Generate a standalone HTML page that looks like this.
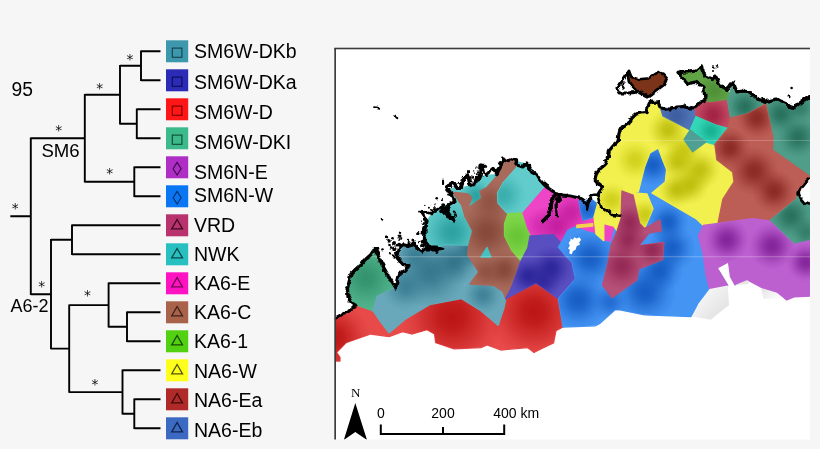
<!DOCTYPE html>
<html><head><meta charset="utf-8"><title>Phylogeny and map</title>
<style>
html,body{margin:0;padding:0;background:#f6f6f6;}
body{width:820px;height:449px;overflow:hidden;}
svg{display:block;will-change:transform;}
text{font-family:"Liberation Sans",sans-serif;fill:#000;}
.lab{font-size:19.5px;}

.st{font-family:"DejaVu Sans",sans-serif;font-size:13.8px;fill:#111;}
.sb{font-size:14px;}
.nn{font-family:"Liberation Serif",serif;font-size:13px;}
</style></head><body>
<svg width="820" height="449" viewBox="0 0 820 449">
<defs>
<clipPath id="c_red"><polygon points="335.5,318.0 343.0,314.0 349.0,311.0 356.0,305.0 373.0,310.8 380.6,321.9 389.0,332.9 405.0,319.4 429.6,304.7 461.5,298.6 481.0,310.8 498.2,325.5 504.3,307.0 505.7,298.8 536.0,283.0 558.4,298.8 563.0,327.0 556.0,330.7 553.5,343.0 538.8,350.0 534.0,352.5 527.6,347.6 500.7,350.0 487.0,345.0 481.0,347.6 454.0,348.8 435.7,342.7 434.5,334.0 427.0,329.7 412.4,334.0 402.6,331.7 389.0,336.6 370.8,334.0 346.0,342.7 336.5,352.5 340.0,357.4 340.0,361.0 335.5,361.0"/></clipPath>
<radialGradient id="g0" gradientUnits="userSpaceOnUse" cx="452" cy="317" r="52.2"><stop offset="0" stop-color="#b00808" stop-opacity="0.8"/><stop offset="0.25" stop-color="#b00808" stop-opacity="0.68"/><stop offset="0.5" stop-color="#b00808" stop-opacity="0.42"/><stop offset="0.75" stop-color="#b00808" stop-opacity="0.16"/><stop offset="1" stop-color="#b00808" stop-opacity="0"/></radialGradient>
<radialGradient id="g1" gradientUnits="userSpaceOnUse" cx="334" cy="338" r="36.6"><stop offset="0" stop-color="#b00808" stop-opacity="0.8"/><stop offset="0.25" stop-color="#b00808" stop-opacity="0.68"/><stop offset="0.5" stop-color="#b00808" stop-opacity="0.42"/><stop offset="0.75" stop-color="#b00808" stop-opacity="0.16"/><stop offset="1" stop-color="#b00808" stop-opacity="0"/></radialGradient>
<radialGradient id="g2" gradientUnits="userSpaceOnUse" cx="534" cy="312" r="47.0"><stop offset="0" stop-color="#b00808" stop-opacity="0.8"/><stop offset="0.25" stop-color="#b00808" stop-opacity="0.68"/><stop offset="0.5" stop-color="#b00808" stop-opacity="0.42"/><stop offset="0.75" stop-color="#b00808" stop-opacity="0.16"/><stop offset="1" stop-color="#b00808" stop-opacity="0"/></radialGradient>
<clipPath id="c_greenL"><polygon points="373.7,249.0 369.3,255.7 361.2,263.0 353.0,271.0 348.7,278.5 348.0,288.8 351.0,302.0 356.0,305.0 373.0,310.8 376.9,296.4 387.0,291.5 395.8,288.0 389.9,278.5 384.0,268.0 379.6,259.4 376.6,249.9"/></clipPath>
<radialGradient id="g3" gradientUnits="userSpaceOnUse" cx="366" cy="278" r="31.4"><stop offset="0" stop-color="#2a8a66" stop-opacity="0.8"/><stop offset="0.25" stop-color="#2a8a66" stop-opacity="0.68"/><stop offset="0.5" stop-color="#2a8a66" stop-opacity="0.42"/><stop offset="0.75" stop-color="#2a8a66" stop-opacity="0.16"/><stop offset="1" stop-color="#2a8a66" stop-opacity="0"/></radialGradient>
<clipPath id="c_steel"><polygon points="395.8,288.0 398.7,274.0 404.6,271.0 409.0,264.5 403.0,264.5 397.0,258.0 398.7,252.0 403.0,244.7 410.5,244.7 416.0,246.0 422.0,252.0 425.0,249.0 436.0,248.5 444.0,244.4 468.8,245.0 467.6,254.7 478.6,271.9 470.0,284.0 493.3,285.3 503.0,291.5 505.6,299.8 504.3,307.0 498.2,325.5 481.0,310.8 461.5,298.6 429.6,304.7 405.0,319.4 389.0,332.9 380.6,321.9 373.0,310.8 376.9,296.4 387.0,291.5"/></clipPath>
<radialGradient id="g4" gradientUnits="userSpaceOnUse" cx="430" cy="272" r="36.6"><stop offset="0" stop-color="#2a6a82" stop-opacity="0.8"/><stop offset="0.25" stop-color="#2a6a82" stop-opacity="0.68"/><stop offset="0.5" stop-color="#2a6a82" stop-opacity="0.42"/><stop offset="0.75" stop-color="#2a6a82" stop-opacity="0.16"/><stop offset="1" stop-color="#2a6a82" stop-opacity="0"/></radialGradient>
<radialGradient id="g5" gradientUnits="userSpaceOnUse" cx="455" cy="262" r="23.6"><stop offset="0" stop-color="#2a6a82" stop-opacity="0.8"/><stop offset="0.25" stop-color="#2a6a82" stop-opacity="0.68"/><stop offset="0.5" stop-color="#2a6a82" stop-opacity="0.42"/><stop offset="0.75" stop-color="#2a6a82" stop-opacity="0.16"/><stop offset="1" stop-color="#2a6a82" stop-opacity="0"/></radialGradient>
<radialGradient id="g6" gradientUnits="userSpaceOnUse" cx="483" cy="295" r="19.7"><stop offset="0" stop-color="#34788e" stop-opacity="0.8"/><stop offset="0.25" stop-color="#34788e" stop-opacity="0.68"/><stop offset="0.5" stop-color="#34788e" stop-opacity="0.42"/><stop offset="0.75" stop-color="#34788e" stop-opacity="0.16"/><stop offset="1" stop-color="#34788e" stop-opacity="0"/></radialGradient>
<radialGradient id="g7" gradientUnits="userSpaceOnUse" cx="405" cy="287" r="23.6"><stop offset="0" stop-color="#34788e" stop-opacity="0.8"/><stop offset="0.25" stop-color="#34788e" stop-opacity="0.68"/><stop offset="0.5" stop-color="#34788e" stop-opacity="0.42"/><stop offset="0.75" stop-color="#34788e" stop-opacity="0.16"/><stop offset="1" stop-color="#34788e" stop-opacity="0"/></radialGradient>
<radialGradient id="g8" gradientUnits="userSpaceOnUse" cx="470" cy="250" r="18.4"><stop offset="0" stop-color="#2a6a82" stop-opacity="0.8"/><stop offset="0.25" stop-color="#2a6a82" stop-opacity="0.68"/><stop offset="0.5" stop-color="#2a6a82" stop-opacity="0.42"/><stop offset="0.75" stop-color="#2a6a82" stop-opacity="0.16"/><stop offset="1" stop-color="#2a6a82" stop-opacity="0"/></radialGradient>
<radialGradient id="g9" gradientUnits="userSpaceOnUse" cx="415" cy="255" r="19.7"><stop offset="0" stop-color="#34788e" stop-opacity="0.8"/><stop offset="0.25" stop-color="#34788e" stop-opacity="0.68"/><stop offset="0.5" stop-color="#34788e" stop-opacity="0.42"/><stop offset="0.75" stop-color="#34788e" stop-opacity="0.16"/><stop offset="1" stop-color="#34788e" stop-opacity="0"/></radialGradient>
<clipPath id="c_turqL"><polygon points="436.0,248.5 425.0,249.0 424.0,243.0 425.0,235.8 427.0,221.0 432.0,213.7 441.8,206.4 449.0,205.0 455.0,201.7 451.7,193.3 453.0,193.0 461.7,205.0 465.0,216.5 472.5,231.0 468.8,245.0 444.0,244.4"/></clipPath>
<radialGradient id="g10" gradientUnits="userSpaceOnUse" cx="452" cy="232" r="28.8"><stop offset="0" stop-color="#1f9696" stop-opacity="0.8"/><stop offset="0.25" stop-color="#1f9696" stop-opacity="0.68"/><stop offset="0.5" stop-color="#1f9696" stop-opacity="0.42"/><stop offset="0.75" stop-color="#1f9696" stop-opacity="0.16"/><stop offset="1" stop-color="#1f9696" stop-opacity="0"/></radialGradient>
<clipPath id="c_turqU"><polygon points="455.8,192.5 451.7,193.3 449.0,189.5 455.0,187.5 461.7,188.0 468.0,186.0 474.0,185.0 478.5,181.0 481.7,176.7 487.0,175.5 493.0,175.0 498.0,175.0 486.7,187.5 480.0,191.0 481.7,198.0 468.0,208.0 471.7,197.5 468.0,194.0"/></clipPath>
<radialGradient id="g11" gradientUnits="userSpaceOnUse" cx="476" cy="196" r="17.1"><stop offset="0" stop-color="#1f9696" stop-opacity="0.8"/><stop offset="0.25" stop-color="#1f9696" stop-opacity="0.68"/><stop offset="0.5" stop-color="#1f9696" stop-opacity="0.42"/><stop offset="0.75" stop-color="#1f9696" stop-opacity="0.16"/><stop offset="1" stop-color="#1f9696" stop-opacity="0"/></radialGradient>
<clipPath id="c_brownA"><polygon points="453.0,193.0 455.8,192.5 468.0,194.0 471.7,197.5 468.0,208.0 465.0,216.5 461.7,205.0"/></clipPath>
<clipPath id="c_brown"><polygon points="503.0,163.0 510.0,158.5 516.7,162.0 516.7,167.5 503.0,183.0 497.5,193.0 498.0,203.0 507.0,213.0 504.5,223.5 504.5,235.8 511.9,250.5 521.0,261.0 520.3,262.5 511.9,286.6 505.7,298.8 503.0,291.5 493.3,285.3 470.0,284.0 478.6,271.9 467.6,254.7 468.8,245.0 472.5,231.0 465.0,216.5 468.0,208.0 481.7,198.0 480.0,191.0 486.7,187.5 498.0,175.0"/></clipPath>
<radialGradient id="g12" gradientUnits="userSpaceOnUse" cx="487" cy="232" r="28.8"><stop offset="0" stop-color="#7c4030" stop-opacity="0.8"/><stop offset="0.25" stop-color="#7c4030" stop-opacity="0.68"/><stop offset="0.5" stop-color="#7c4030" stop-opacity="0.42"/><stop offset="0.75" stop-color="#7c4030" stop-opacity="0.16"/><stop offset="1" stop-color="#7c4030" stop-opacity="0"/></radialGradient>
<radialGradient id="g13" gradientUnits="userSpaceOnUse" cx="490" cy="202" r="21.0"><stop offset="0" stop-color="#8a4c3c" stop-opacity="0.8"/><stop offset="0.25" stop-color="#8a4c3c" stop-opacity="0.68"/><stop offset="0.5" stop-color="#8a4c3c" stop-opacity="0.42"/><stop offset="0.75" stop-color="#8a4c3c" stop-opacity="0.16"/><stop offset="1" stop-color="#8a4c3c" stop-opacity="0"/></radialGradient>
<radialGradient id="g14" gradientUnits="userSpaceOnUse" cx="504" cy="270" r="19.7"><stop offset="0" stop-color="#7c4030" stop-opacity="0.8"/><stop offset="0.25" stop-color="#7c4030" stop-opacity="0.68"/><stop offset="0.5" stop-color="#7c4030" stop-opacity="0.42"/><stop offset="0.75" stop-color="#7c4030" stop-opacity="0.16"/><stop offset="1" stop-color="#7c4030" stop-opacity="0"/></radialGradient>
<radialGradient id="g15" gradientUnits="userSpaceOnUse" cx="486" cy="272" r="17.1"><stop offset="0" stop-color="#8a4c3c" stop-opacity="0.8"/><stop offset="0.25" stop-color="#8a4c3c" stop-opacity="0.68"/><stop offset="0.5" stop-color="#8a4c3c" stop-opacity="0.42"/><stop offset="0.75" stop-color="#8a4c3c" stop-opacity="0.16"/><stop offset="1" stop-color="#8a4c3c" stop-opacity="0"/></radialGradient>
<clipPath id="c_turqTri"><polygon points="487.0,247.4 491.0,257.0 481.0,257.0"/></clipPath>
<clipPath id="c_turqR"><polygon points="516.7,167.5 516.7,162.0 526.7,164.0 536.7,175.0 545.0,187.5 523.0,213.0 510.0,214.0 507.0,213.0 498.0,203.0 497.5,193.0 503.0,183.0"/></clipPath>
<radialGradient id="g16" gradientUnits="userSpaceOnUse" cx="503" cy="195" r="23.6"><stop offset="0" stop-color="#2fa5a5" stop-opacity="0.8"/><stop offset="0.25" stop-color="#2fa5a5" stop-opacity="0.68"/><stop offset="0.5" stop-color="#2fa5a5" stop-opacity="0.42"/><stop offset="0.75" stop-color="#2fa5a5" stop-opacity="0.16"/><stop offset="1" stop-color="#2fa5a5" stop-opacity="0"/></radialGradient>
<clipPath id="c_green"><polygon points="508.0,213.7 521.7,213.0 527.8,228.4 530.0,235.8 527.8,248.0 521.0,261.0 511.9,250.5 504.5,235.8 504.5,223.5"/></clipPath>
<radialGradient id="g17" gradientUnits="userSpaceOnUse" cx="517" cy="236" r="21.0"><stop offset="0" stop-color="#62c030" stop-opacity="0.8"/><stop offset="0.25" stop-color="#62c030" stop-opacity="0.68"/><stop offset="0.5" stop-color="#62c030" stop-opacity="0.42"/><stop offset="0.75" stop-color="#62c030" stop-opacity="0.16"/><stop offset="1" stop-color="#62c030" stop-opacity="0"/></radialGradient>
<clipPath id="c_magenta"><polygon points="545.0,187.5 553.5,191.7 558.4,194.0 563.0,195.0 578.0,197.8 579.0,200.0 580.5,211.0 583.0,220.0 594.0,217.0 596.0,234.0 588.0,232.0 575.0,227.0 568.0,230.0 560.9,243.0 553.5,234.6 531.5,235.8 527.8,228.4 523.0,213.0"/></clipPath>
<radialGradient id="g18" gradientUnits="userSpaceOnUse" cx="556" cy="226" r="23.6"><stop offset="0" stop-color="#b81494" stop-opacity="0.8"/><stop offset="0.25" stop-color="#b81494" stop-opacity="0.68"/><stop offset="0.5" stop-color="#b81494" stop-opacity="0.42"/><stop offset="0.75" stop-color="#b81494" stop-opacity="0.16"/><stop offset="1" stop-color="#b81494" stop-opacity="0"/></radialGradient>
<radialGradient id="g19" gradientUnits="userSpaceOnUse" cx="572" cy="212" r="21.0"><stop offset="0" stop-color="#c01c9c" stop-opacity="0.8"/><stop offset="0.25" stop-color="#c01c9c" stop-opacity="0.68"/><stop offset="0.5" stop-color="#c01c9c" stop-opacity="0.42"/><stop offset="0.75" stop-color="#c01c9c" stop-opacity="0.16"/><stop offset="1" stop-color="#c01c9c" stop-opacity="0"/></radialGradient>
<radialGradient id="g20" gradientUnits="userSpaceOnUse" cx="540" cy="225" r="18.4"><stop offset="0" stop-color="#d028ac" stop-opacity="0.8"/><stop offset="0.25" stop-color="#d028ac" stop-opacity="0.68"/><stop offset="0.5" stop-color="#d028ac" stop-opacity="0.42"/><stop offset="0.75" stop-color="#d028ac" stop-opacity="0.16"/><stop offset="1" stop-color="#d028ac" stop-opacity="0"/></radialGradient>
<clipPath id="c_magenta2"><polygon points="603.8,223.5 613.6,226.0 617.0,230.9 611.0,245.6 603.8,240.7"/></clipPath>
<clipPath id="c_indigo"><polygon points="531.5,235.8 553.5,234.6 560.9,243.0 558.4,247.0 564.6,254.7 572.0,262.0 575.6,279.0 558.4,298.8 536.0,283.0 505.7,298.8 511.9,286.6 520.3,262.5 521.0,261.0 527.8,248.0 530.0,235.8"/></clipPath>
<radialGradient id="g21" gradientUnits="userSpaceOnUse" cx="528" cy="276" r="19.7"><stop offset="0" stop-color="#201a90" stop-opacity="0.8"/><stop offset="0.25" stop-color="#201a90" stop-opacity="0.68"/><stop offset="0.5" stop-color="#201a90" stop-opacity="0.42"/><stop offset="0.75" stop-color="#201a90" stop-opacity="0.16"/><stop offset="1" stop-color="#201a90" stop-opacity="0"/></radialGradient>
<radialGradient id="g22" gradientUnits="userSpaceOnUse" cx="551" cy="268" r="22.3"><stop offset="0" stop-color="#201a90" stop-opacity="0.8"/><stop offset="0.25" stop-color="#201a90" stop-opacity="0.68"/><stop offset="0.5" stop-color="#201a90" stop-opacity="0.42"/><stop offset="0.75" stop-color="#201a90" stop-opacity="0.16"/><stop offset="1" stop-color="#201a90" stop-opacity="0"/></radialGradient>
<radialGradient id="g23" gradientUnits="userSpaceOnUse" cx="543" cy="282" r="18.4"><stop offset="0" stop-color="#2a2298" stop-opacity="0.8"/><stop offset="0.25" stop-color="#2a2298" stop-opacity="0.68"/><stop offset="0.5" stop-color="#2a2298" stop-opacity="0.42"/><stop offset="0.75" stop-color="#2a2298" stop-opacity="0.16"/><stop offset="1" stop-color="#2a2298" stop-opacity="0"/></radialGradient>
<clipPath id="c_blue"><polygon points="560.9,243.0 568.0,230.0 575.0,227.0 588.0,232.0 596.0,234.0 602.5,240.7 611.0,243.0 622.0,200.0 638.4,191.7 644.5,167.0 649.9,153.0 658.4,148.0 662.0,158.0 666.6,169.6 665.3,181.9 651.9,192.9 696.0,218.6 703.3,225.5 698.4,235.8 703.3,254.7 705.8,274.0 709.5,289.0 698.4,303.7 691.0,316.5 644.5,314.8 620.0,309.9 614.8,309.9 600.0,323.3 595.0,325.8 563.0,327.0 558.4,298.8 575.6,279.0 572.0,262.0 564.6,254.7 558.4,247.0"/></clipPath>
<radialGradient id="g24" gradientUnits="userSpaceOnUse" cx="590" cy="258" r="28.8"><stop offset="0" stop-color="#0a4fb8" stop-opacity="0.8"/><stop offset="0.25" stop-color="#0a4fb8" stop-opacity="0.68"/><stop offset="0.5" stop-color="#0a4fb8" stop-opacity="0.42"/><stop offset="0.75" stop-color="#0a4fb8" stop-opacity="0.16"/><stop offset="1" stop-color="#0a4fb8" stop-opacity="0"/></radialGradient>
<radialGradient id="g25" gradientUnits="userSpaceOnUse" cx="578" cy="300" r="30.1"><stop offset="0" stop-color="#0a4fb8" stop-opacity="0.8"/><stop offset="0.25" stop-color="#0a4fb8" stop-opacity="0.68"/><stop offset="0.5" stop-color="#0a4fb8" stop-opacity="0.42"/><stop offset="0.75" stop-color="#0a4fb8" stop-opacity="0.16"/><stop offset="1" stop-color="#0a4fb8" stop-opacity="0"/></radialGradient>
<radialGradient id="g26" gradientUnits="userSpaceOnUse" cx="645" cy="292" r="31.4"><stop offset="0" stop-color="#0a4fb8" stop-opacity="0.8"/><stop offset="0.25" stop-color="#0a4fb8" stop-opacity="0.68"/><stop offset="0.5" stop-color="#0a4fb8" stop-opacity="0.42"/><stop offset="0.75" stop-color="#0a4fb8" stop-opacity="0.16"/><stop offset="1" stop-color="#0a4fb8" stop-opacity="0"/></radialGradient>
<radialGradient id="g27" gradientUnits="userSpaceOnUse" cx="660" cy="270" r="23.6"><stop offset="0" stop-color="#0a4fb8" stop-opacity="0.8"/><stop offset="0.25" stop-color="#0a4fb8" stop-opacity="0.68"/><stop offset="0.5" stop-color="#0a4fb8" stop-opacity="0.42"/><stop offset="0.75" stop-color="#0a4fb8" stop-opacity="0.16"/><stop offset="1" stop-color="#0a4fb8" stop-opacity="0"/></radialGradient>
<radialGradient id="g28" gradientUnits="userSpaceOnUse" cx="672" cy="248" r="23.6"><stop offset="0" stop-color="#0a4fb8" stop-opacity="0.8"/><stop offset="0.25" stop-color="#0a4fb8" stop-opacity="0.68"/><stop offset="0.5" stop-color="#0a4fb8" stop-opacity="0.42"/><stop offset="0.75" stop-color="#0a4fb8" stop-opacity="0.16"/><stop offset="1" stop-color="#0a4fb8" stop-opacity="0"/></radialGradient>
<radialGradient id="g29" gradientUnits="userSpaceOnUse" cx="668" cy="222" r="21.0"><stop offset="0" stop-color="#0a4fb8" stop-opacity="0.8"/><stop offset="0.25" stop-color="#0a4fb8" stop-opacity="0.68"/><stop offset="0.5" stop-color="#0a4fb8" stop-opacity="0.42"/><stop offset="0.75" stop-color="#0a4fb8" stop-opacity="0.16"/><stop offset="1" stop-color="#0a4fb8" stop-opacity="0"/></radialGradient>
<radialGradient id="g30" gradientUnits="userSpaceOnUse" cx="653" cy="165" r="21.0"><stop offset="0" stop-color="#0a4fb8" stop-opacity="0.8"/><stop offset="0.25" stop-color="#0a4fb8" stop-opacity="0.68"/><stop offset="0.5" stop-color="#0a4fb8" stop-opacity="0.42"/><stop offset="0.75" stop-color="#0a4fb8" stop-opacity="0.16"/><stop offset="1" stop-color="#0a4fb8" stop-opacity="0"/></radialGradient>
<radialGradient id="g31" gradientUnits="userSpaceOnUse" cx="610" cy="302" r="18.4"><stop offset="0" stop-color="#1a60c8" stop-opacity="0.8"/><stop offset="0.25" stop-color="#1a60c8" stop-opacity="0.68"/><stop offset="0.5" stop-color="#1a60c8" stop-opacity="0.42"/><stop offset="0.75" stop-color="#1a60c8" stop-opacity="0.16"/><stop offset="1" stop-color="#1a60c8" stop-opacity="0"/></radialGradient>
<clipPath id="c_blueS"><polygon points="579.0,200.0 585.4,201.5 590.0,198.0 597.6,204.0 594.0,217.0 583.0,220.0 580.5,211.0"/></clipPath>
<radialGradient id="g32" gradientUnits="userSpaceOnUse" cx="588" cy="210" r="15.8"><stop offset="0" stop-color="#1458c0" stop-opacity="0.8"/><stop offset="0.25" stop-color="#1458c0" stop-opacity="0.68"/><stop offset="0.5" stop-color="#1458c0" stop-opacity="0.42"/><stop offset="0.75" stop-color="#1458c0" stop-opacity="0.16"/><stop offset="1" stop-color="#1458c0" stop-opacity="0"/></radialGradient>
<clipPath id="c_yellow"><polygon points="597.6,195.0 602.5,186.8 595.0,179.4 597.6,172.0 605.0,164.7 608.7,155.0 609.4,150.6 618.0,140.8 620.4,128.5 629.0,123.6 636.4,113.8 646.0,112.6 649.9,101.6 658.4,101.6 659.7,107.7 663.0,116.0 678.0,123.6 689.0,129.8 684.0,139.6 692.7,151.8 706.0,142.0 714.8,144.5 715.6,150.0 716.8,159.8 732.7,172.0 734.0,181.9 722.9,199.0 718.0,223.5 703.3,225.5 696.0,218.6 651.9,192.9 665.3,181.9 666.6,169.6 662.0,158.0 658.4,148.0 649.9,153.0 644.5,167.0 638.4,191.7 633.5,192.9 633.0,195.0 622.0,191.0 621.0,218.6 617.0,230.9 613.6,226.0 603.8,223.5 603.8,240.7 596.0,234.0 594.0,217.0 597.6,204.0"/></clipPath>
<radialGradient id="g33" gradientUnits="userSpaceOnUse" cx="668" cy="130" r="21.0"><stop offset="0" stop-color="#b4b400" stop-opacity="0.8"/><stop offset="0.25" stop-color="#b4b400" stop-opacity="0.68"/><stop offset="0.5" stop-color="#b4b400" stop-opacity="0.42"/><stop offset="0.75" stop-color="#b4b400" stop-opacity="0.16"/><stop offset="1" stop-color="#b4b400" stop-opacity="0"/></radialGradient>
<radialGradient id="g34" gradientUnits="userSpaceOnUse" cx="635" cy="160" r="21.0"><stop offset="0" stop-color="#c8c810" stop-opacity="0.8"/><stop offset="0.25" stop-color="#c8c810" stop-opacity="0.68"/><stop offset="0.5" stop-color="#c8c810" stop-opacity="0.42"/><stop offset="0.75" stop-color="#c8c810" stop-opacity="0.16"/><stop offset="1" stop-color="#c8c810" stop-opacity="0"/></radialGradient>
<radialGradient id="g35" gradientUnits="userSpaceOnUse" cx="678" cy="162" r="19.7"><stop offset="0" stop-color="#b4b400" stop-opacity="0.8"/><stop offset="0.25" stop-color="#b4b400" stop-opacity="0.68"/><stop offset="0.5" stop-color="#b4b400" stop-opacity="0.42"/><stop offset="0.75" stop-color="#b4b400" stop-opacity="0.16"/><stop offset="1" stop-color="#b4b400" stop-opacity="0"/></radialGradient>
<radialGradient id="g36" gradientUnits="userSpaceOnUse" cx="700" cy="170" r="21.0"><stop offset="0" stop-color="#b4b400" stop-opacity="0.8"/><stop offset="0.25" stop-color="#b4b400" stop-opacity="0.68"/><stop offset="0.5" stop-color="#b4b400" stop-opacity="0.42"/><stop offset="0.75" stop-color="#b4b400" stop-opacity="0.16"/><stop offset="1" stop-color="#b4b400" stop-opacity="0"/></radialGradient>
<radialGradient id="g37" gradientUnits="userSpaceOnUse" cx="690" cy="185" r="19.7"><stop offset="0" stop-color="#b4b400" stop-opacity="0.8"/><stop offset="0.25" stop-color="#b4b400" stop-opacity="0.68"/><stop offset="0.5" stop-color="#b4b400" stop-opacity="0.42"/><stop offset="0.75" stop-color="#b4b400" stop-opacity="0.16"/><stop offset="1" stop-color="#b4b400" stop-opacity="0"/></radialGradient>
<radialGradient id="g38" gradientUnits="userSpaceOnUse" cx="676" cy="190" r="18.4"><stop offset="0" stop-color="#b4b400" stop-opacity="0.8"/><stop offset="0.25" stop-color="#b4b400" stop-opacity="0.68"/><stop offset="0.5" stop-color="#b4b400" stop-opacity="0.42"/><stop offset="0.75" stop-color="#b4b400" stop-opacity="0.16"/><stop offset="1" stop-color="#b4b400" stop-opacity="0"/></radialGradient>
<radialGradient id="g39" gradientUnits="userSpaceOnUse" cx="684" cy="150" r="18.4"><stop offset="0" stop-color="#c0c008" stop-opacity="0.8"/><stop offset="0.25" stop-color="#c0c008" stop-opacity="0.68"/><stop offset="0.5" stop-color="#c0c008" stop-opacity="0.42"/><stop offset="0.75" stop-color="#c0c008" stop-opacity="0.16"/><stop offset="1" stop-color="#c0c008" stop-opacity="0"/></radialGradient>
<radialGradient id="g40" gradientUnits="userSpaceOnUse" cx="612" cy="200" r="18.4"><stop offset="0" stop-color="#c8c810" stop-opacity="0.8"/><stop offset="0.25" stop-color="#c8c810" stop-opacity="0.68"/><stop offset="0.5" stop-color="#c8c810" stop-opacity="0.42"/><stop offset="0.75" stop-color="#c8c810" stop-opacity="0.16"/><stop offset="1" stop-color="#c8c810" stop-opacity="0"/></radialGradient>
<clipPath id="c_yellowS"><polygon points="633.5,192.9 647.0,194.0 653.0,208.8 644.5,228.4 639.6,223.5"/></clipPath>
<radialGradient id="g41" gradientUnits="userSpaceOnUse" cx="645" cy="215" r="17.1"><stop offset="0" stop-color="#c0c008" stop-opacity="0.8"/><stop offset="0.25" stop-color="#c0c008" stop-opacity="0.68"/><stop offset="0.5" stop-color="#c0c008" stop-opacity="0.42"/><stop offset="0.75" stop-color="#c0c008" stop-opacity="0.16"/><stop offset="1" stop-color="#c0c008" stop-opacity="0"/></radialGradient>
<clipPath id="c_ystripe"><polygon points="576.8,225.2 592.7,223.6 592.7,226.0 576.8,227.6"/></clipPath>
<clipPath id="c_mauve"><polygon points="622.0,191.0 633.0,195.0 639.6,223.5 644.5,228.4 649.0,226.0 660.0,219.9 661.4,230.9 649.0,233.0 639.0,245.6 663.8,242.5 662.6,259.6 639.0,269.0 636.9,280.0 612.0,297.6 602.5,285.0 607.5,264.5 611.0,245.6 617.0,230.9 621.0,218.6"/></clipPath>
<radialGradient id="g42" gradientUnits="userSpaceOnUse" cx="630" cy="222" r="18.4"><stop offset="0" stop-color="#8c1f4c" stop-opacity="0.8"/><stop offset="0.25" stop-color="#8c1f4c" stop-opacity="0.68"/><stop offset="0.5" stop-color="#8c1f4c" stop-opacity="0.42"/><stop offset="0.75" stop-color="#8c1f4c" stop-opacity="0.16"/><stop offset="1" stop-color="#8c1f4c" stop-opacity="0"/></radialGradient>
<radialGradient id="g43" gradientUnits="userSpaceOnUse" cx="628" cy="240" r="18.4"><stop offset="0" stop-color="#8c1f4c" stop-opacity="0.8"/><stop offset="0.25" stop-color="#8c1f4c" stop-opacity="0.68"/><stop offset="0.5" stop-color="#8c1f4c" stop-opacity="0.42"/><stop offset="0.75" stop-color="#8c1f4c" stop-opacity="0.16"/><stop offset="1" stop-color="#8c1f4c" stop-opacity="0"/></radialGradient>
<radialGradient id="g44" gradientUnits="userSpaceOnUse" cx="622" cy="266" r="23.6"><stop offset="0" stop-color="#8c1f4c" stop-opacity="0.8"/><stop offset="0.25" stop-color="#8c1f4c" stop-opacity="0.68"/><stop offset="0.5" stop-color="#8c1f4c" stop-opacity="0.42"/><stop offset="0.75" stop-color="#8c1f4c" stop-opacity="0.16"/><stop offset="1" stop-color="#8c1f4c" stop-opacity="0"/></radialGradient>
<radialGradient id="g45" gradientUnits="userSpaceOnUse" cx="652" cy="250" r="18.4"><stop offset="0" stop-color="#8c1f4c" stop-opacity="0.8"/><stop offset="0.25" stop-color="#8c1f4c" stop-opacity="0.68"/><stop offset="0.5" stop-color="#8c1f4c" stop-opacity="0.42"/><stop offset="0.75" stop-color="#8c1f4c" stop-opacity="0.16"/><stop offset="1" stop-color="#8c1f4c" stop-opacity="0"/></radialGradient>
<clipPath id="c_slate"><polygon points="658.4,101.6 659.7,107.7 673.0,109.0 683.0,106.5 695.0,107.7 696.0,116.5 690.0,130.0 678.0,123.6 663.0,116.0"/></clipPath>
<radialGradient id="g46" gradientUnits="userSpaceOnUse" cx="676" cy="116" r="17.1"><stop offset="0" stop-color="#38589a" stop-opacity="0.8"/><stop offset="0.25" stop-color="#38589a" stop-opacity="0.68"/><stop offset="0.5" stop-color="#38589a" stop-opacity="0.42"/><stop offset="0.75" stop-color="#38589a" stop-opacity="0.16"/><stop offset="1" stop-color="#38589a" stop-opacity="0"/></radialGradient>
<clipPath id="c_greenP"><polygon points="678.0,73.4 685.4,72.0 695.0,71.0 702.5,66.0 705.0,75.8 712.4,79.5 716.0,77.0 719.7,84.4 727.0,89.3 729.5,94.0 727.0,100.0 710.0,102.8 705.0,101.6 703.8,86.9 695.0,82.0 687.8,84.4 683.0,78.0"/></clipPath>
<radialGradient id="g47" gradientUnits="userSpaceOnUse" cx="714" cy="90" r="17.1"><stop offset="0" stop-color="#4a8a34" stop-opacity="0.8"/><stop offset="0.25" stop-color="#4a8a34" stop-opacity="0.68"/><stop offset="0.5" stop-color="#4a8a34" stop-opacity="0.42"/><stop offset="0.75" stop-color="#4a8a34" stop-opacity="0.16"/><stop offset="1" stop-color="#4a8a34" stop-opacity="0"/></radialGradient>
<clipPath id="c_crimson"><polygon points="700.0,104.0 705.0,101.6 710.0,102.8 727.5,100.5 730.5,118.0 728.0,128.5 717.0,125.5 696.0,116.5 695.0,107.7"/></clipPath>
<radialGradient id="g48" gradientUnits="userSpaceOnUse" cx="713" cy="115" r="19.7"><stop offset="0" stop-color="#98183c" stop-opacity="0.8"/><stop offset="0.25" stop-color="#98183c" stop-opacity="0.68"/><stop offset="0.5" stop-color="#98183c" stop-opacity="0.42"/><stop offset="0.75" stop-color="#98183c" stop-opacity="0.16"/><stop offset="1" stop-color="#98183c" stop-opacity="0"/></radialGradient>
<clipPath id="c_turq2"><polygon points="696.0,116.5 717.0,125.5 728.0,128.5 725.8,131.0 714.8,144.5 706.0,142.0 702.5,139.6 690.0,130.0"/></clipPath>
<radialGradient id="g49" gradientUnits="userSpaceOnUse" cx="711" cy="131" r="15.8"><stop offset="0" stop-color="#10a888" stop-opacity="0.8"/><stop offset="0.25" stop-color="#10a888" stop-opacity="0.68"/><stop offset="0.5" stop-color="#10a888" stop-opacity="0.42"/><stop offset="0.75" stop-color="#10a888" stop-opacity="0.16"/><stop offset="1" stop-color="#10a888" stop-opacity="0"/></radialGradient>
<clipPath id="c_tealgrey"><polygon points="690.0,130.0 702.5,139.6 706.0,142.0 692.7,151.8 684.0,139.6"/></clipPath>
<clipPath id="c_tealT"><polygon points="729.5,94.0 733.0,82.0 736.9,91.8 749.0,91.8 756.5,97.9 766.0,101.6 765.8,104.0 747.5,113.8 730.5,118.0 727.5,100.5"/></clipPath>
<radialGradient id="g50" gradientUnits="userSpaceOnUse" cx="745" cy="106.5" r="18.4"><stop offset="0" stop-color="#1c6450" stop-opacity="0.8"/><stop offset="0.25" stop-color="#1c6450" stop-opacity="0.68"/><stop offset="0.5" stop-color="#1c6450" stop-opacity="0.42"/><stop offset="0.75" stop-color="#1c6450" stop-opacity="0.16"/><stop offset="1" stop-color="#1c6450" stop-opacity="0"/></radialGradient>
<clipPath id="c_tealR"><polygon points="766.0,101.6 776.9,99.0 786.7,104.0 794.0,107.7 801.4,101.6 810.0,96.7 810.0,176.5 772.5,150.0 773.0,138.0 765.8,104.0"/></clipPath>
<radialGradient id="g51" gradientUnits="userSpaceOnUse" cx="781" cy="114" r="19.7"><stop offset="0" stop-color="#1c6450" stop-opacity="0.8"/><stop offset="0.25" stop-color="#1c6450" stop-opacity="0.68"/><stop offset="0.5" stop-color="#1c6450" stop-opacity="0.42"/><stop offset="0.75" stop-color="#1c6450" stop-opacity="0.16"/><stop offset="1" stop-color="#1c6450" stop-opacity="0"/></radialGradient>
<radialGradient id="g52" gradientUnits="userSpaceOnUse" cx="798" cy="137" r="21.0"><stop offset="0" stop-color="#1c6450" stop-opacity="0.8"/><stop offset="0.25" stop-color="#1c6450" stop-opacity="0.68"/><stop offset="0.5" stop-color="#1c6450" stop-opacity="0.42"/><stop offset="0.75" stop-color="#1c6450" stop-opacity="0.16"/><stop offset="1" stop-color="#1c6450" stop-opacity="0"/></radialGradient>
<radialGradient id="g53" gradientUnits="userSpaceOnUse" cx="800" cy="108" r="15.8"><stop offset="0" stop-color="#2c7460" stop-opacity="0.8"/><stop offset="0.25" stop-color="#2c7460" stop-opacity="0.68"/><stop offset="0.5" stop-color="#2c7460" stop-opacity="0.42"/><stop offset="0.75" stop-color="#2c7460" stop-opacity="0.16"/><stop offset="1" stop-color="#2c7460" stop-opacity="0"/></radialGradient>
<clipPath id="c_dusty"><polygon points="730.5,118.0 747.5,113.8 765.8,104.0 773.0,138.0 772.5,150.0 810.0,176.5 810.0,177.5 803.0,185.5 798.6,193.0 796.5,199.0 769.5,221.0 752.4,218.6 718.0,223.5 722.9,199.0 734.0,181.9 732.7,172.0 716.8,159.8 715.6,150.0 714.8,144.5 725.8,131.0 728.0,128.5"/></clipPath>
<radialGradient id="g54" gradientUnits="userSpaceOnUse" cx="756.8" cy="118" r="21.0"><stop offset="0" stop-color="#7e1c18" stop-opacity="0.8"/><stop offset="0.25" stop-color="#7e1c18" stop-opacity="0.68"/><stop offset="0.5" stop-color="#7e1c18" stop-opacity="0.42"/><stop offset="0.75" stop-color="#7e1c18" stop-opacity="0.16"/><stop offset="1" stop-color="#7e1c18" stop-opacity="0"/></radialGradient>
<radialGradient id="g55" gradientUnits="userSpaceOnUse" cx="730" cy="148" r="21.0"><stop offset="0" stop-color="#7e1c18" stop-opacity="0.8"/><stop offset="0.25" stop-color="#7e1c18" stop-opacity="0.68"/><stop offset="0.5" stop-color="#7e1c18" stop-opacity="0.42"/><stop offset="0.75" stop-color="#7e1c18" stop-opacity="0.16"/><stop offset="1" stop-color="#7e1c18" stop-opacity="0"/></radialGradient>
<radialGradient id="g56" gradientUnits="userSpaceOnUse" cx="754" cy="171" r="24.9"><stop offset="0" stop-color="#7e1c18" stop-opacity="0.8"/><stop offset="0.25" stop-color="#7e1c18" stop-opacity="0.68"/><stop offset="0.5" stop-color="#7e1c18" stop-opacity="0.42"/><stop offset="0.75" stop-color="#7e1c18" stop-opacity="0.16"/><stop offset="1" stop-color="#7e1c18" stop-opacity="0"/></radialGradient>
<radialGradient id="g57" gradientUnits="userSpaceOnUse" cx="774" cy="191" r="22.3"><stop offset="0" stop-color="#7e1c18" stop-opacity="0.8"/><stop offset="0.25" stop-color="#7e1c18" stop-opacity="0.68"/><stop offset="0.5" stop-color="#7e1c18" stop-opacity="0.42"/><stop offset="0.75" stop-color="#7e1c18" stop-opacity="0.16"/><stop offset="1" stop-color="#7e1c18" stop-opacity="0"/></radialGradient>
<clipPath id="c_tealL"><polygon points="796.5,199.0 798.6,193.0 800.5,198.0 804.0,202.5 810.0,205.0 810.0,240.7 794.0,244.4 769.5,221.0"/></clipPath>
<radialGradient id="g58" gradientUnits="userSpaceOnUse" cx="791" cy="216" r="21.0"><stop offset="0" stop-color="#1c6450" stop-opacity="0.8"/><stop offset="0.25" stop-color="#1c6450" stop-opacity="0.68"/><stop offset="0.5" stop-color="#1c6450" stop-opacity="0.42"/><stop offset="0.75" stop-color="#1c6450" stop-opacity="0.16"/><stop offset="1" stop-color="#1c6450" stop-opacity="0"/></radialGradient>
<radialGradient id="g59" gradientUnits="userSpaceOnUse" cx="806" cy="232" r="15.8"><stop offset="0" stop-color="#2c7460" stop-opacity="0.8"/><stop offset="0.25" stop-color="#2c7460" stop-opacity="0.68"/><stop offset="0.5" stop-color="#2c7460" stop-opacity="0.42"/><stop offset="0.75" stop-color="#2c7460" stop-opacity="0.16"/><stop offset="1" stop-color="#2c7460" stop-opacity="0"/></radialGradient>
<clipPath id="c_purple"><polygon points="703.3,225.5 718.0,223.5 752.4,218.6 769.5,221.0 794.0,244.4 810.0,240.7 810.0,296.0 794.0,296.9 786.7,300.0 776.9,292.7 762.0,287.8 747.5,280.0 735.0,285.0 730.5,276.8 728.5,262.0 717.3,268.0 727.8,285.3 709.5,289.0 705.8,274.0 703.3,254.7 698.4,235.8"/></clipPath>
<radialGradient id="g60" gradientUnits="userSpaceOnUse" cx="727" cy="240" r="22.3"><stop offset="0" stop-color="#74148c" stop-opacity="0.8"/><stop offset="0.25" stop-color="#74148c" stop-opacity="0.68"/><stop offset="0.5" stop-color="#74148c" stop-opacity="0.42"/><stop offset="0.75" stop-color="#74148c" stop-opacity="0.16"/><stop offset="1" stop-color="#74148c" stop-opacity="0"/></radialGradient>
<radialGradient id="g61" gradientUnits="userSpaceOnUse" cx="772" cy="246" r="23.6"><stop offset="0" stop-color="#74148c" stop-opacity="0.8"/><stop offset="0.25" stop-color="#74148c" stop-opacity="0.68"/><stop offset="0.5" stop-color="#74148c" stop-opacity="0.42"/><stop offset="0.75" stop-color="#74148c" stop-opacity="0.16"/><stop offset="1" stop-color="#74148c" stop-opacity="0"/></radialGradient>
<radialGradient id="g62" gradientUnits="userSpaceOnUse" cx="806" cy="262" r="19.7"><stop offset="0" stop-color="#74148c" stop-opacity="0.8"/><stop offset="0.25" stop-color="#74148c" stop-opacity="0.68"/><stop offset="0.5" stop-color="#74148c" stop-opacity="0.42"/><stop offset="0.75" stop-color="#74148c" stop-opacity="0.16"/><stop offset="1" stop-color="#74148c" stop-opacity="0"/></radialGradient>
<clipPath id="c_island"><polygon points="629.0,71.0 631.5,77.0 638.8,79.5 648.6,78.3 658.4,72.0 667.0,78.3 663.3,85.6 648.6,96.7 636.4,90.5 629.0,82.0"/></clipPath>
<linearGradient id="gr1" x1="0" y1="0" x2="1" y2="1"><stop offset="0" stop-color="#ffffff"/><stop offset="1" stop-color="#dcdcdc"/></linearGradient>
<linearGradient id="gr2" x1="0" y1="0" x2="1" y2="0.6"><stop offset="0" stop-color="#e2e2e2"/><stop offset="1" stop-color="#ffffff"/></linearGradient>
<filter id="rough" x="-2%" y="-2%" width="104%" height="104%"><feTurbulence type="fractalNoise" baseFrequency="0.16" numOctaves="2" seed="7" result="n"/><feDisplacementMap in="SourceGraphic" in2="n" scale="4.5" xChannelSelector="R" yChannelSelector="G"/></filter>
<clipPath id="frame"><rect x="334.5" y="48" width="475.5" height="391.5"/></clipPath>
</defs>
<rect width="820" height="449" fill="#f6f6f6"/>
<rect x="334.5" y="48" width="475.5" height="391.5" fill="#ffffff"/>
<g clip-path="url(#frame)">
<polygon points="335.5,318.0 343.0,314.0 349.0,311.0 356.0,305.0 373.0,310.8 380.6,321.9 389.0,332.9 405.0,319.4 429.6,304.7 461.5,298.6 481.0,310.8 498.2,325.5 504.3,307.0 505.7,298.8 536.0,283.0 558.4,298.8 563.0,327.0 556.0,330.7 553.5,343.0 538.8,350.0 534.0,352.5 527.6,347.6 500.7,350.0 487.0,345.0 481.0,347.6 454.0,348.8 435.7,342.7 434.5,334.0 427.0,329.7 412.4,334.0 402.6,331.7 389.0,336.6 370.8,334.0 346.0,342.7 336.5,352.5 340.0,357.4 340.0,361.0 335.5,361.0" fill="#e84a4a" stroke="#e84a4a" stroke-width="1.3" stroke-linejoin="round"/>
<g clip-path="url(#c_red)">
<circle cx="452" cy="317" r="52.2" fill="url(#g0)"/>
<circle cx="334" cy="338" r="36.6" fill="url(#g1)"/>
<circle cx="534" cy="312" r="47.0" fill="url(#g2)"/>
</g>
<polygon points="373.7,249.0 369.3,255.7 361.2,263.0 353.0,271.0 348.7,278.5 348.0,288.8 351.0,302.0 356.0,305.0 373.0,310.8 376.9,296.4 387.0,291.5 395.8,288.0 389.9,278.5 384.0,268.0 379.6,259.4 376.6,249.9" fill="#52b48c" stroke="#52b48c" stroke-width="1.3" stroke-linejoin="round"/>
<g clip-path="url(#c_greenL)">
<circle cx="366" cy="278" r="31.4" fill="url(#g3)"/>
</g>
<polygon points="395.8,288.0 398.7,274.0 404.6,271.0 409.0,264.5 403.0,264.5 397.0,258.0 398.7,252.0 403.0,244.7 410.5,244.7 416.0,246.0 422.0,252.0 425.0,249.0 436.0,248.5 444.0,244.4 468.8,245.0 467.6,254.7 478.6,271.9 470.0,284.0 493.3,285.3 503.0,291.5 505.6,299.8 504.3,307.0 498.2,325.5 481.0,310.8 461.5,298.6 429.6,304.7 405.0,319.4 389.0,332.9 380.6,321.9 373.0,310.8 376.9,296.4 387.0,291.5" fill="#68a8ba" stroke="#68a8ba" stroke-width="1.3" stroke-linejoin="round"/>
<g clip-path="url(#c_steel)">
<circle cx="430" cy="272" r="36.6" fill="url(#g4)"/>
<circle cx="455" cy="262" r="23.6" fill="url(#g5)"/>
<circle cx="483" cy="295" r="19.7" fill="url(#g6)"/>
<circle cx="405" cy="287" r="23.6" fill="url(#g7)"/>
<circle cx="470" cy="250" r="18.4" fill="url(#g8)"/>
<circle cx="415" cy="255" r="19.7" fill="url(#g9)"/>
</g>
<polygon points="436.0,248.5 425.0,249.0 424.0,243.0 425.0,235.8 427.0,221.0 432.0,213.7 441.8,206.4 449.0,205.0 455.0,201.7 451.7,193.3 453.0,193.0 461.7,205.0 465.0,216.5 472.5,231.0 468.8,245.0 444.0,244.4" fill="#5ec9c9" stroke="#5ec9c9" stroke-width="1.3" stroke-linejoin="round"/>
<g clip-path="url(#c_turqL)">
<circle cx="452" cy="232" r="28.8" fill="url(#g10)"/>
</g>
<polygon points="455.8,192.5 451.7,193.3 449.0,189.5 455.0,187.5 461.7,188.0 468.0,186.0 474.0,185.0 478.5,181.0 481.7,176.7 487.0,175.5 493.0,175.0 498.0,175.0 486.7,187.5 480.0,191.0 481.7,198.0 468.0,208.0 471.7,197.5 468.0,194.0" fill="#5ec9c9" stroke="#5ec9c9" stroke-width="1.3" stroke-linejoin="round"/>
<g clip-path="url(#c_turqU)">
<circle cx="476" cy="196" r="17.1" fill="url(#g11)"/>
</g>
<polygon points="453.0,193.0 455.8,192.5 468.0,194.0 471.7,197.5 468.0,208.0 465.0,216.5 461.7,205.0" fill="#a86a5b" stroke="#a86a5b" stroke-width="1.3" stroke-linejoin="round"/>
<polygon points="503.0,163.0 510.0,158.5 516.7,162.0 516.7,167.5 503.0,183.0 497.5,193.0 498.0,203.0 507.0,213.0 504.5,223.5 504.5,235.8 511.9,250.5 521.0,261.0 520.3,262.5 511.9,286.6 505.7,298.8 503.0,291.5 493.3,285.3 470.0,284.0 478.6,271.9 467.6,254.7 468.8,245.0 472.5,231.0 465.0,216.5 468.0,208.0 481.7,198.0 480.0,191.0 486.7,187.5 498.0,175.0" fill="#a86a5b" stroke="#a86a5b" stroke-width="1.3" stroke-linejoin="round"/>
<g clip-path="url(#c_brown)">
<circle cx="487" cy="232" r="28.8" fill="url(#g12)"/>
<circle cx="490" cy="202" r="21.0" fill="url(#g13)"/>
<circle cx="504" cy="270" r="19.7" fill="url(#g14)"/>
<circle cx="486" cy="272" r="17.1" fill="url(#g15)"/>
</g>
<polygon points="487.0,247.4 491.0,257.0 481.0,257.0" fill="#45c0c0" stroke="#45c0c0" stroke-width="1.3" stroke-linejoin="round"/>
<polygon points="516.7,167.5 516.7,162.0 526.7,164.0 536.7,175.0 545.0,187.5 523.0,213.0 510.0,214.0 507.0,213.0 498.0,203.0 497.5,193.0 503.0,183.0" fill="#62cccc" stroke="#62cccc" stroke-width="1.3" stroke-linejoin="round"/>
<g clip-path="url(#c_turqR)">
<circle cx="503" cy="195" r="23.6" fill="url(#g16)"/>
</g>
<polygon points="508.0,213.7 521.7,213.0 527.8,228.4 530.0,235.8 527.8,248.0 521.0,261.0 511.9,250.5 504.5,235.8 504.5,223.5" fill="#80d64a" stroke="#80d64a" stroke-width="1.3" stroke-linejoin="round"/>
<g clip-path="url(#c_green)">
<circle cx="517" cy="236" r="21.0" fill="url(#g17)"/>
</g>
<polygon points="545.0,187.5 553.5,191.7 558.4,194.0 563.0,195.0 578.0,197.8 579.0,200.0 580.5,211.0 583.0,220.0 594.0,217.0 596.0,234.0 588.0,232.0 575.0,227.0 568.0,230.0 560.9,243.0 553.5,234.6 531.5,235.8 527.8,228.4 523.0,213.0" fill="#ee44c6" stroke="#ee44c6" stroke-width="1.3" stroke-linejoin="round"/>
<g clip-path="url(#c_magenta)">
<circle cx="556" cy="226" r="23.6" fill="url(#g18)"/>
<circle cx="572" cy="212" r="21.0" fill="url(#g19)"/>
<circle cx="540" cy="225" r="18.4" fill="url(#g20)"/>
</g>
<polygon points="603.8,223.5 613.6,226.0 617.0,230.9 611.0,245.6 603.8,240.7" fill="#ee44c6" stroke="#ee44c6" stroke-width="1.3" stroke-linejoin="round"/>
<polygon points="531.5,235.8 553.5,234.6 560.9,243.0 558.4,247.0 564.6,254.7 572.0,262.0 575.6,279.0 558.4,298.8 536.0,283.0 505.7,298.8 511.9,286.6 520.3,262.5 521.0,261.0 527.8,248.0 530.0,235.8" fill="#5a4fc0" stroke="#5a4fc0" stroke-width="1.3" stroke-linejoin="round"/>
<g clip-path="url(#c_indigo)">
<circle cx="528" cy="276" r="19.7" fill="url(#g21)"/>
<circle cx="551" cy="268" r="22.3" fill="url(#g22)"/>
<circle cx="543" cy="282" r="18.4" fill="url(#g23)"/>
</g>
<polygon points="560.9,243.0 568.0,230.0 575.0,227.0 588.0,232.0 596.0,234.0 602.5,240.7 611.0,243.0 622.0,200.0 638.4,191.7 644.5,167.0 649.9,153.0 658.4,148.0 662.0,158.0 666.6,169.6 665.3,181.9 651.9,192.9 696.0,218.6 703.3,225.5 698.4,235.8 703.3,254.7 705.8,274.0 709.5,289.0 698.4,303.7 691.0,316.5 644.5,314.8 620.0,309.9 614.8,309.9 600.0,323.3 595.0,325.8 563.0,327.0 558.4,298.8 575.6,279.0 572.0,262.0 564.6,254.7 558.4,247.0" fill="#4494f4" stroke="#4494f4" stroke-width="1.3" stroke-linejoin="round"/>
<g clip-path="url(#c_blue)">
<circle cx="590" cy="258" r="28.8" fill="url(#g24)"/>
<circle cx="578" cy="300" r="30.1" fill="url(#g25)"/>
<circle cx="645" cy="292" r="31.4" fill="url(#g26)"/>
<circle cx="660" cy="270" r="23.6" fill="url(#g27)"/>
<circle cx="672" cy="248" r="23.6" fill="url(#g28)"/>
<circle cx="668" cy="222" r="21.0" fill="url(#g29)"/>
<circle cx="653" cy="165" r="21.0" fill="url(#g30)"/>
<circle cx="610" cy="302" r="18.4" fill="url(#g31)"/>
</g>
<polygon points="579.0,200.0 585.4,201.5 590.0,198.0 597.6,204.0 594.0,217.0 583.0,220.0 580.5,211.0" fill="#3f8ef2" stroke="#3f8ef2" stroke-width="1.3" stroke-linejoin="round"/>
<g clip-path="url(#c_blueS)">
<circle cx="588" cy="210" r="15.8" fill="url(#g32)"/>
</g>
<polygon points="597.6,195.0 602.5,186.8 595.0,179.4 597.6,172.0 605.0,164.7 608.7,155.0 609.4,150.6 618.0,140.8 620.4,128.5 629.0,123.6 636.4,113.8 646.0,112.6 649.9,101.6 658.4,101.6 659.7,107.7 663.0,116.0 678.0,123.6 689.0,129.8 684.0,139.6 692.7,151.8 706.0,142.0 714.8,144.5 715.6,150.0 716.8,159.8 732.7,172.0 734.0,181.9 722.9,199.0 718.0,223.5 703.3,225.5 696.0,218.6 651.9,192.9 665.3,181.9 666.6,169.6 662.0,158.0 658.4,148.0 649.9,153.0 644.5,167.0 638.4,191.7 633.5,192.9 633.0,195.0 622.0,191.0 621.0,218.6 617.0,230.9 613.6,226.0 603.8,223.5 603.8,240.7 596.0,234.0 594.0,217.0 597.6,204.0" fill="#f2f04e" stroke="#f2f04e" stroke-width="1.3" stroke-linejoin="round"/>
<g clip-path="url(#c_yellow)">
<circle cx="668" cy="130" r="21.0" fill="url(#g33)"/>
<circle cx="635" cy="160" r="21.0" fill="url(#g34)"/>
<circle cx="678" cy="162" r="19.7" fill="url(#g35)"/>
<circle cx="700" cy="170" r="21.0" fill="url(#g36)"/>
<circle cx="690" cy="185" r="19.7" fill="url(#g37)"/>
<circle cx="676" cy="190" r="18.4" fill="url(#g38)"/>
<circle cx="684" cy="150" r="18.4" fill="url(#g39)"/>
<circle cx="612" cy="200" r="18.4" fill="url(#g40)"/>
</g>
<polygon points="633.5,192.9 647.0,194.0 653.0,208.8 644.5,228.4 639.6,223.5" fill="#f2f04e" stroke="#f2f04e" stroke-width="1.3" stroke-linejoin="round"/>
<g clip-path="url(#c_yellowS)">
<circle cx="645" cy="215" r="17.1" fill="url(#g41)"/>
</g>
<polygon points="576.8,225.2 592.7,223.6 592.7,226.0 576.8,227.6" fill="#f4d24e" stroke="#f4d24e" stroke-width="1.3" stroke-linejoin="round"/>
<polygon points="622.0,191.0 633.0,195.0 639.6,223.5 644.5,228.4 649.0,226.0 660.0,219.9 661.4,230.9 649.0,233.0 639.0,245.6 663.8,242.5 662.6,259.6 639.0,269.0 636.9,280.0 612.0,297.6 602.5,285.0 607.5,264.5 611.0,245.6 617.0,230.9 621.0,218.6" fill="#b65078" stroke="#b65078" stroke-width="1.3" stroke-linejoin="round"/>
<g clip-path="url(#c_mauve)">
<circle cx="630" cy="222" r="18.4" fill="url(#g42)"/>
<circle cx="628" cy="240" r="18.4" fill="url(#g43)"/>
<circle cx="622" cy="266" r="23.6" fill="url(#g44)"/>
<circle cx="652" cy="250" r="18.4" fill="url(#g45)"/>
</g>
<polygon points="658.4,101.6 659.7,107.7 673.0,109.0 683.0,106.5 695.0,107.7 696.0,116.5 690.0,130.0 678.0,123.6 663.0,116.0" fill="#4f74b8" stroke="#4f74b8" stroke-width="1.3" stroke-linejoin="round"/>
<g clip-path="url(#c_slate)">
<circle cx="676" cy="116" r="17.1" fill="url(#g46)"/>
</g>
<polygon points="678.0,73.4 685.4,72.0 695.0,71.0 702.5,66.0 705.0,75.8 712.4,79.5 716.0,77.0 719.7,84.4 727.0,89.3 729.5,94.0 727.0,100.0 710.0,102.8 705.0,101.6 703.8,86.9 695.0,82.0 687.8,84.4 683.0,78.0" fill="#60a446" stroke="#60a446" stroke-width="1.3" stroke-linejoin="round"/>
<g clip-path="url(#c_greenP)">
<circle cx="714" cy="90" r="17.1" fill="url(#g47)"/>
</g>
<polygon points="700.0,104.0 705.0,101.6 710.0,102.8 727.5,100.5 730.5,118.0 728.0,128.5 717.0,125.5 696.0,116.5 695.0,107.7" fill="#c64c64" stroke="#c64c64" stroke-width="1.3" stroke-linejoin="round"/>
<g clip-path="url(#c_crimson)">
<circle cx="713" cy="115" r="19.7" fill="url(#g48)"/>
</g>
<polygon points="696.0,116.5 717.0,125.5 728.0,128.5 725.8,131.0 714.8,144.5 706.0,142.0 702.5,139.6 690.0,130.0" fill="#34d6b8" stroke="#34d6b8" stroke-width="1.3" stroke-linejoin="round"/>
<g clip-path="url(#c_turq2)">
<circle cx="711" cy="131" r="15.8" fill="url(#g49)"/>
</g>
<polygon points="690.0,130.0 702.5,139.6 706.0,142.0 692.7,151.8 684.0,139.6" fill="#4f9f94" stroke="#4f9f94" stroke-width="1.3" stroke-linejoin="round"/>
<polygon points="729.5,94.0 733.0,82.0 736.9,91.8 749.0,91.8 756.5,97.9 766.0,101.6 765.8,104.0 747.5,113.8 730.5,118.0 727.5,100.5" fill="#509e8a" stroke="#509e8a" stroke-width="1.3" stroke-linejoin="round"/>
<g clip-path="url(#c_tealT)">
<circle cx="745" cy="106.5" r="18.4" fill="url(#g50)"/>
</g>
<polygon points="766.0,101.6 776.9,99.0 786.7,104.0 794.0,107.7 801.4,101.6 810.0,96.7 810.0,176.5 772.5,150.0 773.0,138.0 765.8,104.0" fill="#509e8a" stroke="#509e8a" stroke-width="1.3" stroke-linejoin="round"/>
<g clip-path="url(#c_tealR)">
<circle cx="781" cy="114" r="19.7" fill="url(#g51)"/>
<circle cx="798" cy="137" r="21.0" fill="url(#g52)"/>
<circle cx="800" cy="108" r="15.8" fill="url(#g53)"/>
</g>
<polygon points="730.5,118.0 747.5,113.8 765.8,104.0 773.0,138.0 772.5,150.0 810.0,176.5 810.0,177.5 803.0,185.5 798.6,193.0 796.5,199.0 769.5,221.0 752.4,218.6 718.0,223.5 722.9,199.0 734.0,181.9 732.7,172.0 716.8,159.8 715.6,150.0 714.8,144.5 725.8,131.0 728.0,128.5" fill="#bd5e56" stroke="#bd5e56" stroke-width="1.3" stroke-linejoin="round"/>
<g clip-path="url(#c_dusty)">
<circle cx="756.8" cy="118" r="21.0" fill="url(#g54)"/>
<circle cx="730" cy="148" r="21.0" fill="url(#g55)"/>
<circle cx="754" cy="171" r="24.9" fill="url(#g56)"/>
<circle cx="774" cy="191" r="22.3" fill="url(#g57)"/>
</g>
<polygon points="796.5,199.0 798.6,193.0 800.5,198.0 804.0,202.5 810.0,205.0 810.0,240.7 794.0,244.4 769.5,221.0" fill="#509e8a" stroke="#509e8a" stroke-width="1.3" stroke-linejoin="round"/>
<g clip-path="url(#c_tealL)">
<circle cx="791" cy="216" r="21.0" fill="url(#g58)"/>
<circle cx="806" cy="232" r="15.8" fill="url(#g59)"/>
</g>
<polygon points="703.3,225.5 718.0,223.5 752.4,218.6 769.5,221.0 794.0,244.4 810.0,240.7 810.0,296.0 794.0,296.9 786.7,300.0 776.9,292.7 762.0,287.8 747.5,280.0 735.0,285.0 730.5,276.8 728.5,262.0 717.3,268.0 727.8,285.3 709.5,289.0 705.8,274.0 703.3,254.7 698.4,235.8" fill="#bc60d0" stroke="#bc60d0" stroke-width="1.3" stroke-linejoin="round"/>
<g clip-path="url(#c_purple)">
<circle cx="727" cy="240" r="22.3" fill="url(#g60)"/>
<circle cx="772" cy="246" r="23.6" fill="url(#g61)"/>
<circle cx="806" cy="262" r="19.7" fill="url(#g62)"/>
</g>
<polygon points="629.0,71.0 631.5,77.0 638.8,79.5 648.6,78.3 658.4,72.0 667.0,78.3 663.3,85.6 648.6,96.7 636.4,90.5 629.0,82.0" fill="#7c3418" stroke="#7c3418" stroke-width="1.3" stroke-linejoin="round"/>
<polygon points="709.5,289 727.8,285.5 729,305 710.7,319.7 692,316.5 698.4,303.7" fill="url(#gr1)"/>
<polygon points="735,285 747.5,280 748.7,284" fill="#e6e6e6"/>
<polygon points="761,288 776.9,292.7 784.5,299 763.5,299" fill="url(#gr2)"/>
<path transform="translate(573 246) scale(1.25) translate(-573 -246)" d="M571 240l2 1 1-2 2 1 2-1 1.5 2-1.5 2 .5 2-2.5 1 -1 3-2 1-1 2.5-2-.5.5-3-1.5-1 1.5-2.5-1-2 1.500-2z" fill="#fff"/>
<rect x="335" y="256.4" width="475" height="0.8" fill="#ffffff" opacity="0.35"/>
<rect x="575" y="140.2" width="235" height="0.8" fill="#ffffff" opacity="0.25"/>
<polygon points="629,71 622.9,79.5 616.8,89 619,93 636,92.5 629,82" fill="#fff"/>
<g filter="url(#rough)">
<polyline points="335.5,318.0 343.0,314.0 349.0,311.0 356.0,306.0 351.0,302.0 348.0,296.0 347.5,289.0 349.0,281.0 351.0,274.0 356.0,269.0 361.0,264.5 366.0,259.0 371.0,254.5 374.0,250.0 376.6,249.5 379.6,259.4 384.0,268.0 389.9,278.5 395.8,288.0 397.0,281.0 398.7,274.0 404.6,271.0 409.0,264.5 403.0,264.5 397.0,258.0 398.7,252.0 400.0,247.0 403.0,244.7 407.0,245.5 410.5,244.7 413.0,244.0 416.0,246.0 419.0,250.0 422.0,252.0 424.5,249.5 428.0,248.6 436.0,249.0 442.8,248.4 436.0,247.2 428.0,246.8 424.0,243.0 425.0,234.0 425.0,229.0 427.0,221.0 423.0,216.0 419.8,211.3 426.0,212.0 432.0,213.7 437.0,210.0 441.8,206.4 444.0,209.0 441.8,211.3 448.0,216.0 454.0,221.0 449.0,214.0 446.0,208.0 449.0,205.0 455.0,201.7 454.0,199.0 451.7,193.3 449.0,191.7 446.7,186.7 450.0,185.0 453.0,183.0 456.5,187.5 461.7,187.5 463.0,181.0 465.8,176.7 467.6,175.0 469.0,181.0 471.0,185.5 474.0,184.5 475.5,180.5 477.0,177.5 478.5,180.0 480.0,176.0 481.0,170.0 482.0,166.0 484.0,170.0 485.5,175.0 488.0,175.0 490.0,171.0 493.0,168.5 495.0,172.5 497.0,174.5 500.0,167.0 503.0,162.0 506.0,160.0 510.5,158.6 514.0,159.5 516.6,161.0 516.0,165.0 520.0,166.0 522.7,167.0 526.7,164.0 531.5,172.0 536.7,175.0 540.0,180.0 543.7,184.3 548.0,188.0 553.5,191.7 558.4,194.0 563.0,195.0 570.0,196.0 578.0,197.8 582.0,199.0 585.4,201.5 587.0,205.0 587.8,208.8 589.0,202.0 590.0,196.6 594.0,195.0 597.6,195.0 600.0,191.0 602.5,186.8 598.0,183.0 595.0,179.4 596.0,175.0 597.6,172.0 601.0,168.0 605.0,164.7 607.0,160.0 608.7,155.0 609.4,150.6 613.0,146.0 618.0,140.8 619.0,134.0 620.4,128.5 625.0,126.0 629.0,123.6 632.0,118.0 636.4,113.8 641.0,113.0 646.0,112.6 648.0,107.0 649.9,101.6 654.0,102.5 658.4,101.6 659.7,107.7 666.0,109.0 673.0,109.0 678.0,107.0 683.0,106.5 689.0,108.0 695.0,107.7 698.0,105.0 700.0,102.8 705.0,101.6 704.5,94.0 703.8,86.9 699.0,84.0 695.0,82.0 691.0,83.0 687.8,84.4 685.0,81.0 683.0,78.0 680.0,75.0 678.0,73.4 682.0,72.5 685.4,72.0 690.0,72.0 695.0,71.0 699.0,68.0 702.5,66.0 703.0,71.0 705.0,75.8 709.0,78.0 712.4,79.5 714.0,77.5 716.0,77.0 718.0,81.0 719.7,84.4 723.0,87.0 727.0,89.3 730.0,86.0 733.0,82.0 735.0,87.0 736.9,91.8 743.0,91.0 749.0,91.8 753.0,95.0 756.5,97.9 761.0,100.0 766.3,101.6 772.0,100.0 776.9,99.0 782.0,102.0 786.7,104.0 790.0,106.5 794.0,107.7 798.0,104.5 801.4,101.6 806.0,99.0 810.0,96.7" fill="none" stroke="#000" stroke-width="3.2" stroke-linejoin="round" stroke-linecap="round"/>
<polyline points="557.5,193.5 553.0,197.0 550.5,203.0 551.0,208.0 549.0,214.0 546.0,218.0 542.5,221.5" fill="none" stroke="#000" stroke-width="3.6" stroke-linejoin="round" stroke-linecap="round"/>
<polyline points="557.5,194.0 560.0,198.0 558.5,201.5 556.0,204.0 556.5,210.0 557.5,216.0" fill="none" stroke="#000" stroke-width="3.2" stroke-linejoin="round" stroke-linecap="round"/>
<polyline points="557.0,199.5 559.5,200.5" fill="none" stroke="#000" stroke-width="5.0" stroke-linejoin="round" stroke-linecap="round"/>
<polyline points="597.6,195.0 599.0,201.0 601.0,206.0 606.0,210.0 612.0,215.0 617.0,215.5 621.0,215.7" fill="none" stroke="#000" stroke-width="2.6" stroke-linejoin="round" stroke-linecap="round"/>
<polyline points="629.0,71.0 631.5,77.0 638.8,79.5 648.6,78.3 658.4,72.0 663.0,74.0 667.0,78.3 665.5,82.0 663.3,85.6 656.0,91.0 648.6,96.7 642.0,93.5 636.4,90.5 632.0,86.0 629.0,82.0 628.0,76.0 629.0,71.0" fill="none" stroke="#000" stroke-width="2.5" stroke-linejoin="round" stroke-linecap="round"/>
<polyline points="629.0,71.0 626.0,75.0 622.9,79.5 620.0,84.0 616.8,89.0 619.0,93.0 627.0,93.0 636.0,92.5" fill="none" stroke="#000" stroke-width="2.8" stroke-linejoin="round" stroke-linecap="round"/>
<polyline points="625.0,82.0 622.0,85.0 624.0,88.0" fill="none" stroke="#000" stroke-width="1.6" stroke-linejoin="round" stroke-linecap="round"/>
<polyline points="810.5,177.5 806.0,181.5 803.0,185.5 800.0,189.0 798.6,193.0 800.5,198.0 804.0,202.5 810.5,205.0" fill="none" stroke="#000" stroke-width="2.6" stroke-linejoin="round" stroke-linecap="round"/>
<circle cx="343.9" cy="314.4" r="1.3" fill="#000"/>
<circle cx="353.0" cy="306.3" r="1.5" fill="#000"/>
<circle cx="349.9" cy="309.9" r="0.7" fill="#000"/>
<circle cx="355.6" cy="304.5" r="1.1" fill="#000"/>
<circle cx="348.2" cy="300.0" r="1.5" fill="#000"/>
<circle cx="348.1" cy="293.8" r="0.8" fill="#000"/>
<circle cx="346.4" cy="290.7" r="1.0" fill="#000"/>
<circle cx="346.2" cy="288.7" r="1.1" fill="#000"/>
<circle cx="349.8" cy="281.3" r="1.2" fill="#000"/>
<circle cx="351.3" cy="275.8" r="1.0" fill="#000"/>
<circle cx="349.9" cy="280.4" r="0.7" fill="#000"/>
<circle cx="354.7" cy="269.7" r="1.1" fill="#000"/>
<circle cx="356.9" cy="268.8" r="0.9" fill="#000"/>
<circle cx="361.1" cy="262.5" r="1.2" fill="#000"/>
<circle cx="361.3" cy="262.6" r="1.0" fill="#000"/>
<circle cx="368.0" cy="258.2" r="1.2" fill="#000"/>
<circle cx="374.2" cy="248.6" r="1.4" fill="#000"/>
<circle cx="378.2" cy="251.7" r="1.5" fill="#000"/>
<circle cx="377.0" cy="253.9" r="1.5" fill="#000"/>
<circle cx="381.7" cy="264.8" r="1.3" fill="#000"/>
<circle cx="380.3" cy="259.8" r="1.4" fill="#000"/>
<circle cx="388.8" cy="273.8" r="0.9" fill="#000"/>
<circle cx="384.2" cy="268.1" r="0.7" fill="#000"/>
<circle cx="385.5" cy="269.6" r="0.8" fill="#000"/>
<circle cx="389.9" cy="280.3" r="1.4" fill="#000"/>
<circle cx="406.9" cy="266.6" r="1.2" fill="#000"/>
<circle cx="404.6" cy="265.4" r="1.2" fill="#000"/>
<circle cx="399.5" cy="261.9" r="1.1" fill="#000"/>
<circle cx="397.6" cy="256.5" r="1.2" fill="#000"/>
<circle cx="396.0" cy="256.4" r="1.2" fill="#000"/>
<circle cx="399.2" cy="244.7" r="2.0" fill="#000"/>
<circle cx="404.6" cy="244.8" r="1.1" fill="#000"/>
<circle cx="409.5" cy="242.9" r="2.0" fill="#000"/>
<circle cx="410.9" cy="244.6" r="1.2" fill="#000"/>
<circle cx="415.0" cy="245.1" r="1.9" fill="#000"/>
<circle cx="416.6" cy="248.4" r="1.4" fill="#000"/>
<circle cx="417.2" cy="245.4" r="1.3" fill="#000"/>
<circle cx="419.2" cy="249.9" r="0.7" fill="#000"/>
<circle cx="424.5" cy="250.4" r="0.7" fill="#000"/>
<circle cx="426.5" cy="248.3" r="1.2" fill="#000"/>
<circle cx="433.5" cy="248.6" r="0.8" fill="#000"/>
<circle cx="440.9" cy="248.9" r="1.0" fill="#000"/>
<circle cx="436.1" cy="250.2" r="1.8" fill="#000"/>
<circle cx="435.7" cy="252.5" r="1.0" fill="#000"/>
<circle cx="436.4" cy="248.6" r="2.0" fill="#000"/>
<circle cx="428.4" cy="248.5" r="1.1" fill="#000"/>
<circle cx="429.4" cy="248.8" r="1.2" fill="#000"/>
<circle cx="422.9" cy="245.8" r="1.9" fill="#000"/>
<circle cx="426.8" cy="247.4" r="1.8" fill="#000"/>
<circle cx="424.9" cy="242.8" r="1.9" fill="#000"/>
<circle cx="419.2" cy="242.2" r="1.2" fill="#000"/>
<circle cx="423.1" cy="241.6" r="1.8" fill="#000"/>
<circle cx="425.2" cy="234.5" r="1.5" fill="#000"/>
<circle cx="423.9" cy="230.4" r="1.9" fill="#000"/>
<circle cx="422.5" cy="232.4" r="2.0" fill="#000"/>
<circle cx="418.1" cy="232.4" r="1.3" fill="#000"/>
<circle cx="426.4" cy="224.9" r="1.5" fill="#000"/>
<circle cx="423.2" cy="223.4" r="1.5" fill="#000"/>
<circle cx="425.7" cy="222.4" r="1.7" fill="#000"/>
<circle cx="421.1" cy="221.2" r="0.9" fill="#000"/>
<circle cx="424.6" cy="219.1" r="1.9" fill="#000"/>
<circle cx="421.8" cy="213.6" r="1.6" fill="#000"/>
<circle cx="423.5" cy="214.8" r="1.1" fill="#000"/>
<circle cx="424.1" cy="211.4" r="1.6" fill="#000"/>
<circle cx="424.8" cy="205.4" r="0.7" fill="#000"/>
<circle cx="422.9" cy="212.0" r="1.5" fill="#000"/>
<circle cx="428.6" cy="211.6" r="1.1" fill="#000"/>
<circle cx="429.9" cy="206.8" r="1.0" fill="#000"/>
<circle cx="435.1" cy="208.9" r="1.9" fill="#000"/>
<circle cx="431.9" cy="210.2" r="1.2" fill="#000"/>
<circle cx="441.3" cy="206.9" r="1.8" fill="#000"/>
<circle cx="437.1" cy="209.1" r="1.8" fill="#000"/>
<circle cx="434.4" cy="205.6" r="1.1" fill="#000"/>
<circle cx="443.2" cy="205.3" r="2.0" fill="#000"/>
<circle cx="445.3" cy="210.7" r="1.5" fill="#000"/>
<circle cx="442.5" cy="212.8" r="0.9" fill="#000"/>
<circle cx="444.7" cy="214.2" r="1.1" fill="#000"/>
<circle cx="449.1" cy="208.3" r="1.3" fill="#000"/>
<circle cx="447.0" cy="216.4" r="2.0" fill="#000"/>
<circle cx="453.1" cy="219.2" r="1.5" fill="#000"/>
<circle cx="452.8" cy="217.6" r="1.9" fill="#000"/>
<circle cx="455.0" cy="214.9" r="1.1" fill="#000"/>
<circle cx="450.1" cy="218.4" r="1.5" fill="#000"/>
<circle cx="455.0" cy="212.6" r="1.2" fill="#000"/>
<circle cx="451.1" cy="218.8" r="2.1" fill="#000"/>
<circle cx="446.1" cy="209.6" r="2.0" fill="#000"/>
<circle cx="445.0" cy="210.8" r="1.4" fill="#000"/>
<circle cx="448.0" cy="214.0" r="0.9" fill="#000"/>
<circle cx="448.0" cy="206.2" r="2.0" fill="#000"/>
<circle cx="450.4" cy="202.7" r="1.5" fill="#000"/>
<circle cx="454.1" cy="200.0" r="1.8" fill="#000"/>
<circle cx="448.1" cy="203.1" r="1.2" fill="#000"/>
<circle cx="454.5" cy="201.7" r="1.0" fill="#000"/>
<circle cx="451.0" cy="194.2" r="2.1" fill="#000"/>
<circle cx="449.5" cy="194.2" r="1.0" fill="#000"/>
<circle cx="448.2" cy="194.6" r="1.1" fill="#000"/>
<circle cx="447.3" cy="191.5" r="1.0" fill="#000"/>
<circle cx="446.7" cy="190.2" r="1.3" fill="#000"/>
<circle cx="448.8" cy="185.5" r="1.8" fill="#000"/>
<circle cx="450.6" cy="185.8" r="1.1" fill="#000"/>
<circle cx="461.0" cy="183.3" r="1.4" fill="#000"/>
<circle cx="458.8" cy="182.8" r="1.0" fill="#000"/>
<circle cx="461.9" cy="179.5" r="1.4" fill="#000"/>
<circle cx="462.8" cy="177.3" r="1.5" fill="#000"/>
<circle cx="467.6" cy="175.2" r="1.0" fill="#000"/>
<circle cx="469.1" cy="179.6" r="1.2" fill="#000"/>
<circle cx="469.9" cy="178.0" r="1.8" fill="#000"/>
<circle cx="472.8" cy="177.4" r="1.3" fill="#000"/>
<circle cx="474.3" cy="183.6" r="0.8" fill="#000"/>
<circle cx="469.2" cy="183.2" r="1.5" fill="#000"/>
<circle cx="473.4" cy="181.4" r="1.1" fill="#000"/>
<circle cx="472.5" cy="184.5" r="1.5" fill="#000"/>
<circle cx="471.1" cy="180.3" r="1.1" fill="#000"/>
<circle cx="475.9" cy="181.4" r="1.9" fill="#000"/>
<circle cx="476.1" cy="177.9" r="1.2" fill="#000"/>
<circle cx="480.3" cy="176.8" r="1.3" fill="#000"/>
<circle cx="477.8" cy="173.3" r="1.0" fill="#000"/>
<circle cx="474.7" cy="172.8" r="0.9" fill="#000"/>
<circle cx="478.5" cy="171.5" r="1.0" fill="#000"/>
<circle cx="474.6" cy="170.9" r="0.7" fill="#000"/>
<circle cx="479.5" cy="168.3" r="1.2" fill="#000"/>
<circle cx="476.5" cy="167.6" r="1.1" fill="#000"/>
<circle cx="484.5" cy="166.6" r="1.6" fill="#000"/>
<circle cx="485.4" cy="174.0" r="1.4" fill="#000"/>
<circle cx="485.7" cy="174.4" r="1.3" fill="#000"/>
<circle cx="486.5" cy="175.3" r="1.6" fill="#000"/>
<circle cx="487.9" cy="172.3" r="1.1" fill="#000"/>
<circle cx="490.7" cy="172.0" r="1.5" fill="#000"/>
<circle cx="495.7" cy="171.2" r="1.8" fill="#000"/>
<circle cx="498.0" cy="170.0" r="1.1" fill="#000"/>
<circle cx="496.2" cy="171.4" r="1.1" fill="#000"/>
<circle cx="496.1" cy="174.0" r="1.8" fill="#000"/>
<circle cx="499.0" cy="168.7" r="2.1" fill="#000"/>
<circle cx="496.6" cy="170.1" r="1.7" fill="#000"/>
<circle cx="496.6" cy="170.8" r="1.9" fill="#000"/>
<circle cx="500.3" cy="162.8" r="1.9" fill="#000"/>
<circle cx="503.1" cy="159.4" r="2.1" fill="#000"/>
<circle cx="506.7" cy="159.7" r="0.9" fill="#000"/>
<circle cx="510.4" cy="158.8" r="0.8" fill="#000"/>
<circle cx="514.6" cy="159.6" r="1.2" fill="#000"/>
<circle cx="515.3" cy="164.5" r="0.8" fill="#000"/>
<circle cx="517.1" cy="164.4" r="1.2" fill="#000"/>
<circle cx="520.5" cy="166.5" r="0.8" fill="#000"/>
<circle cx="525.5" cy="164.4" r="1.4" fill="#000"/>
<circle cx="523.8" cy="164.5" r="1.4" fill="#000"/>
<circle cx="529.0" cy="165.0" r="1.3" fill="#000"/>
<circle cx="535.0" cy="172.2" r="1.2" fill="#000"/>
<circle cx="532.8" cy="172.5" r="1.0" fill="#000"/>
<circle cx="538.2" cy="178.4" r="1.0" fill="#000"/>
<circle cx="548.2" cy="187.7" r="0.8" fill="#000"/>
<circle cx="547.8" cy="186.3" r="1.4" fill="#000"/>
<circle cx="552.4" cy="191.3" r="1.3" fill="#000"/>
<circle cx="566.8" cy="194.4" r="0.9" fill="#000"/>
<circle cx="565.1" cy="195.5" r="1.1" fill="#000"/>
<circle cx="575.9" cy="196.5" r="0.8" fill="#000"/>
<circle cx="580.6" cy="198.6" r="1.3" fill="#000"/>
<circle cx="587.6" cy="202.4" r="1.3" fill="#000"/>
<circle cx="587.8" cy="206.8" r="0.9" fill="#000"/>
<circle cx="587.5" cy="206.4" r="0.9" fill="#000"/>
<circle cx="594.3" cy="195.8" r="1.2" fill="#000"/>
<circle cx="599.3" cy="192.1" r="1.4" fill="#000"/>
<circle cx="599.4" cy="192.8" r="0.8" fill="#000"/>
<circle cx="601.0" cy="190.9" r="1.4" fill="#000"/>
<circle cx="598.9" cy="183.6" r="1.0" fill="#000"/>
<circle cx="597.3" cy="183.5" r="1.5" fill="#000"/>
<circle cx="595.7" cy="176.8" r="1.0" fill="#000"/>
<circle cx="595.7" cy="176.5" r="1.1" fill="#000"/>
<circle cx="598.9" cy="168.9" r="1.4" fill="#000"/>
<circle cx="599.2" cy="169.6" r="0.8" fill="#000"/>
<circle cx="605.3" cy="160.2" r="1.2" fill="#000"/>
<circle cx="605.7" cy="163.9" r="1.2" fill="#000"/>
<circle cx="606.8" cy="156.1" r="1.0" fill="#000"/>
<circle cx="606.3" cy="157.2" r="0.8" fill="#000"/>
<circle cx="615.2" cy="142.1" r="0.9" fill="#000"/>
<circle cx="617.1" cy="141.0" r="1.4" fill="#000"/>
<circle cx="618.6" cy="140.4" r="1.5" fill="#000"/>
<circle cx="619.5" cy="129.8" r="1.3" fill="#000"/>
<circle cx="618.8" cy="133.9" r="0.8" fill="#000"/>
<circle cx="645.3" cy="112.5" r="1.2" fill="#000"/>
<circle cx="645.8" cy="109.2" r="1.0" fill="#000"/>
<circle cx="654.3" cy="102.3" r="1.1" fill="#000"/>
<circle cx="659.7" cy="103.9" r="1.1" fill="#000"/>
<circle cx="658.7" cy="103.1" r="0.9" fill="#000"/>
<circle cx="672.1" cy="107.9" r="0.9" fill="#000"/>
<circle cx="672.3" cy="107.9" r="0.8" fill="#000"/>
<circle cx="673.1" cy="109.2" r="1.0" fill="#000"/>
<circle cx="682.1" cy="106.7" r="1.2" fill="#000"/>
<circle cx="683.6" cy="105.3" r="0.9" fill="#000"/>
<circle cx="690.2" cy="106.5" r="1.4" fill="#000"/>
<circle cx="704.8" cy="101.0" r="0.9" fill="#000"/>
<circle cx="705.3" cy="94.9" r="1.3" fill="#000"/>
<circle cx="704.6" cy="87.3" r="0.9" fill="#000"/>
<circle cx="703.1" cy="86.0" r="1.2" fill="#000"/>
<circle cx="699.6" cy="85.2" r="1.4" fill="#000"/>
<circle cx="696.7" cy="82.6" r="1.4" fill="#000"/>
<circle cx="696.0" cy="83.3" r="0.8" fill="#000"/>
<circle cx="691.2" cy="83.3" r="1.1" fill="#000"/>
<circle cx="686.2" cy="84.1" r="0.8" fill="#000"/>
<circle cx="684.2" cy="80.5" r="0.8" fill="#000"/>
<circle cx="680.7" cy="71.3" r="1.1" fill="#000"/>
<circle cx="688.4" cy="71.3" r="1.3" fill="#000"/>
<circle cx="699.3" cy="66.7" r="1.3" fill="#000"/>
<circle cx="703.2" cy="69.9" r="0.9" fill="#000"/>
<circle cx="708.2" cy="78.3" r="0.7" fill="#000"/>
<circle cx="707.1" cy="76.8" r="0.9" fill="#000"/>
<circle cx="712.3" cy="78.0" r="1.2" fill="#000"/>
<circle cx="714.5" cy="77.6" r="0.7" fill="#000"/>
<circle cx="717.5" cy="78.9" r="0.8" fill="#000"/>
<circle cx="719.1" cy="83.9" r="0.8" fill="#000"/>
<circle cx="726.2" cy="88.8" r="1.0" fill="#000"/>
<circle cx="732.5" cy="83.2" r="1.4" fill="#000"/>
<circle cx="733.1" cy="82.8" r="1.0" fill="#000"/>
<circle cx="734.6" cy="81.8" r="1.3" fill="#000"/>
<circle cx="736.1" cy="90.6" r="1.1" fill="#000"/>
<circle cx="742.6" cy="91.2" r="1.5" fill="#000"/>
<circle cx="740.6" cy="91.3" r="1.2" fill="#000"/>
<circle cx="743.5" cy="90.2" r="1.4" fill="#000"/>
<circle cx="751.6" cy="92.3" r="1.0" fill="#000"/>
<circle cx="752.1" cy="94.4" r="0.8" fill="#000"/>
<circle cx="754.6" cy="97.0" r="0.9" fill="#000"/>
<circle cx="754.7" cy="96.2" r="1.5" fill="#000"/>
<circle cx="757.1" cy="99.1" r="1.3" fill="#000"/>
<circle cx="762.6" cy="101.5" r="0.8" fill="#000"/>
<circle cx="762.8" cy="99.1" r="1.3" fill="#000"/>
<circle cx="768.0" cy="101.7" r="1.4" fill="#000"/>
<circle cx="772.1" cy="100.0" r="0.8" fill="#000"/>
<circle cx="781.9" cy="100.8" r="1.1" fill="#000"/>
<circle cx="777.0" cy="99.5" r="0.7" fill="#000"/>
<circle cx="782.2" cy="102.0" r="1.1" fill="#000"/>
<circle cx="797.0" cy="105.9" r="0.9" fill="#000"/>
<circle cx="796.8" cy="105.4" r="1.4" fill="#000"/>
<circle cx="798.8" cy="103.9" r="0.9" fill="#000"/>
<circle cx="797.7" cy="103.9" r="1.2" fill="#000"/>
<circle cx="809.3" cy="96.2" r="1.2" fill="#000"/>
<ellipse cx="465.8" cy="177" rx="1.9" ry="1.9" transform="rotate(0 465.8 177)" fill="#000"/>
<ellipse cx="477.3" cy="177.6" rx="1.8" ry="1.8" transform="rotate(0 477.3 177.6)" fill="#000"/>
<ellipse cx="493" cy="169" rx="1.8" ry="1.8" transform="rotate(0 493 169)" fill="#000"/>
<ellipse cx="468" cy="172" rx="1.1" ry="1.7" transform="rotate(0 468 172)" fill="#000"/>
<ellipse cx="473.5" cy="183.5" rx="1.6" ry="1.6" transform="rotate(0 473.5 183.5)" fill="#000"/>
<ellipse cx="456" cy="184.5" rx="1.6" ry="1.6" transform="rotate(0 456 184.5)" fill="#000"/>
<ellipse cx="462" cy="183" rx="1.5" ry="1.5" transform="rotate(0 462 183)" fill="#000"/>
<ellipse cx="386" cy="237" rx="1.5" ry="1.5" transform="rotate(0 386 237)" fill="#000"/>
<ellipse cx="389" cy="241" rx="1.8" ry="1.8" transform="rotate(0 389 241)" fill="#000"/>
<ellipse cx="392.5" cy="238.5" rx="1.4" ry="1.4" transform="rotate(0 392.5 238.5)" fill="#000"/>
<ellipse cx="394" cy="243" rx="2.0" ry="2.0" transform="rotate(0 394 243)" fill="#000"/>
<ellipse cx="391" cy="247" rx="1.8" ry="1.8" transform="rotate(0 391 247)" fill="#000"/>
<ellipse cx="394.5" cy="250" rx="2.0" ry="2.0" transform="rotate(0 394.5 250)" fill="#000"/>
<ellipse cx="390.5" cy="253" rx="1.6" ry="1.6" transform="rotate(0 390.5 253)" fill="#000"/>
<ellipse cx="393.5" cy="256" rx="1.8" ry="1.8" transform="rotate(0 393.5 256)" fill="#000"/>
<ellipse cx="396.5" cy="253.5" rx="1.5" ry="1.5" transform="rotate(0 396.5 253.5)" fill="#000"/>
<ellipse cx="400" cy="238.5" rx="1.3" ry="1.3" transform="rotate(0 400 238.5)" fill="#000"/>
<ellipse cx="413" cy="240" rx="1.6" ry="1.6" transform="rotate(0 413 240)" fill="#000"/>
<ellipse cx="417.7" cy="233" rx="1.6" ry="1.6" transform="rotate(0 417.7 233)" fill="#000"/>
<ellipse cx="400" cy="232.7" rx="1.2" ry="1.2" transform="rotate(0 400 232.7)" fill="#000"/>
<ellipse cx="382.5" cy="249.5" rx="1.3" ry="1.3" transform="rotate(0 382.5 249.5)" fill="#000"/>
<ellipse cx="397" cy="246" rx="1.6" ry="1.6" transform="rotate(0 397 246)" fill="#000"/>
<ellipse cx="388.5" cy="245" rx="1.3" ry="1.3" transform="rotate(0 388.5 245)" fill="#000"/>
<ellipse cx="376.5" cy="108" rx="3.6" ry="1.3" transform="rotate(15 376.5 108)" fill="#000"/>
<ellipse cx="396.3" cy="117" rx="2.6" ry="1.3" transform="rotate(50 396.3 117)" fill="#000"/>
<ellipse cx="381.8" cy="219.4" rx="1.4" ry="1.4" transform="rotate(0 381.8 219.4)" fill="#000"/>
<ellipse cx="443" cy="182" rx="1.2" ry="2.4" transform="rotate(0 443 182)" fill="#000"/>
<ellipse cx="468" cy="171.7" rx="1.0" ry="1.6" transform="rotate(0 468 171.7)" fill="#000"/>
<ellipse cx="436.7" cy="198.3" rx="1.3" ry="1.3" transform="rotate(0 436.7 198.3)" fill="#000"/>
<ellipse cx="441.7" cy="200" rx="1.3" ry="1.3" transform="rotate(0 441.7 200)" fill="#000"/>
<ellipse cx="400" cy="236" rx="1.5" ry="1.5" transform="rotate(0 400 236)" fill="#000"/>
<ellipse cx="386.7" cy="237" rx="1.6" ry="1.6" transform="rotate(0 386.7 237)" fill="#000"/>
<ellipse cx="392.8" cy="248" rx="1.4" ry="1.4" transform="rotate(0 392.8 248)" fill="#000"/>
<ellipse cx="375.7" cy="249.3" rx="1.4" ry="1.4" transform="rotate(0 375.7 249.3)" fill="#000"/>
<ellipse cx="368.3" cy="257.8" rx="1.3" ry="1.3" transform="rotate(0 368.3 257.8)" fill="#000"/>
<ellipse cx="408" cy="240" rx="1.2" ry="1.2" transform="rotate(0 408 240)" fill="#000"/>
<ellipse cx="414" cy="243" rx="1.2" ry="1.2" transform="rotate(0 414 243)" fill="#000"/>
<ellipse cx="791.6" cy="88" rx="1.3" ry="1.3" transform="rotate(0 791.6 88)" fill="#000"/>
<ellipse cx="789" cy="96.7" rx="1.5" ry="1.5" transform="rotate(0 789 96.7)" fill="#000"/>
<ellipse cx="714" cy="67.5" rx="1.2" ry="1.2" transform="rotate(0 714 67.5)" fill="#000"/>
<ellipse cx="717.5" cy="66.5" rx="1.2" ry="1.2" transform="rotate(0 717.5 66.5)" fill="#000"/>
<ellipse cx="713" cy="71" rx="1.0" ry="1.0" transform="rotate(0 713 71)" fill="#000"/>
<ellipse cx="694" cy="84" rx="1.2" ry="1.2" transform="rotate(0 694 84)" fill="#000"/>
<ellipse cx="481.5" cy="166.5" rx="3.2" ry="3.2" transform="rotate(0 481.5 166.5)" fill="#000"/>
</g>
<polygon points="355.3,403 367,440 355.3,432 343.8,440" fill="#000"/>
<text x="355.6" y="396.9" class="nn" text-anchor="middle">N</text>
<path d="M380.8 424.5V434H504.2V424.5M443 427V434" fill="none" stroke="#000" stroke-width="2"/>
<text x="381" y="417.6" class="sb" text-anchor="middle">0</text>
<text x="443" y="417.6" class="sb" text-anchor="middle">200</text>
<text x="493.3" y="417.6" class="sb">400 km</text>
</g>
<rect x="334.3" y="48" width="1.7" height="391.5" fill="#3c3c3c"/>
<rect x="334.3" y="47.7" width="475.7" height="1.6" fill="#3c3c3c"/>
<path d="M141.0 51.3L160.5 51.3 M141.0 80.3L160.5 80.3 M141.0 50.6L141.0 81.0 M120.0 65.8L141.0 65.8 M136.8 109.3L160.5 109.3 M136.8 138.3L160.5 138.3 M136.8 108.6L136.8 139.0 M120.0 123.8L136.8 123.8 M120.0 65.1L120.0 124.5 M84.8 94.8L120.0 94.8 M134.3 167.3L160.5 167.3 M134.3 196.3L160.5 196.3 M134.3 166.6L134.3 197.0 M84.8 181.8L134.3 181.8 M84.8 94.1L84.8 182.5 M30.8 138.3L84.8 138.3 M72.0 225.3L160.5 225.3 M72.0 254.3L160.5 254.3 M72.0 224.6L72.0 255.0 M51.0 239.8L72.0 239.8 M108.6 283.3L160.5 283.3 M127.0 312.3L160.5 312.3 M127.0 341.3L160.5 341.3 M127.0 311.6L127.0 342.0 M108.6 326.8L127.0 326.8 M108.6 282.6L108.6 327.5 M69.2 305.1L108.6 305.1 M122.5 370.3L160.5 370.3 M134.3 399.3L160.5 399.3 M134.3 428.3L160.5 428.3 M134.3 398.6L134.3 429.0 M122.5 413.8L134.3 413.8 M122.5 369.6L122.5 414.5 M69.2 392.1L122.5 392.1 M69.2 304.4L69.2 392.8 M51.0 348.6L69.2 348.6 M51.0 239.1L51.0 349.2 M30.8 294.2L51.0 294.2 M30.8 137.6L30.8 294.9 M10.3 216.2L30.8 216.2" fill="none" stroke="#000" stroke-width="1.9"/>
<rect x="166" y="40.3" width="22.2" height="22" fill="#3d97ad"/>
<rect x="172.3" y="48.1" width="9.6" height="9.2" fill="none" stroke="#12404c" stroke-width="1.1"/>
<text x="194" y="58.4" class="lab">SM6W-DKb</text>
<rect x="166" y="69.3" width="22.2" height="22" fill="#2b2bb5"/>
<rect x="172.3" y="77.1" width="9.6" height="9.2" fill="none" stroke="#0c0c58" stroke-width="1.1"/>
<text x="194" y="89.3" class="lab">SM6W-DKa</text>
<rect x="166" y="98.3" width="22.2" height="22" fill="#ff1616"/>
<rect x="172.3" y="106.1" width="9.6" height="9.2" fill="none" stroke="#7a0000" stroke-width="1.1"/>
<text x="194" y="119.2" class="lab">SM6W-D</text>
<rect x="166" y="127.3" width="22.2" height="22" fill="#3dba8c"/>
<rect x="172.3" y="135.1" width="9.6" height="9.2" fill="none" stroke="#0e4a34" stroke-width="1.1"/>
<text x="194" y="148.9" class="lab">SM6W-DKI</text>
<rect x="166" y="156.3" width="22.2" height="22" fill="#ae2ec6"/>
<path d="M177.1 162.4L181.1 168.7L177.1 175.0L173.1 168.7Z" fill="none" stroke="#3c0a48" stroke-width="1.1"/>
<text x="194" y="178.8" class="lab">SM6N-E</text>
<rect x="166" y="185.3" width="22.2" height="22" fill="#0b76f4"/>
<path d="M177.1 191.4L181.1 197.7L177.1 204.0L173.1 197.7Z" fill="none" stroke="#03306c" stroke-width="1.1"/>
<text x="194" y="202.2" class="lab">SM6N-W</text>
<rect x="166" y="214.3" width="22.2" height="22" fill="#b8326e"/>
<path d="M177.1 219.5L182.5 228.8L171.7 228.8Z" fill="none" stroke="#3c0a20" stroke-width="1.3"/>
<text x="194" y="231.9" class="lab">VRD</text>
<rect x="166" y="243.3" width="22.2" height="22" fill="#27bfc0"/>
<path d="M177.1 248.5L182.5 257.8L171.7 257.8Z" fill="none" stroke="#0a4848" stroke-width="1.3"/>
<text x="194" y="260.9" class="lab">NWK</text>
<rect x="166" y="272.3" width="22.2" height="22" fill="#ff12c2"/>
<path d="M177.1 277.5L182.5 286.8L171.7 286.8Z" fill="none" stroke="#70084e" stroke-width="1.3"/>
<text x="194" y="290.3" class="lab">KA6-E</text>
<rect x="166" y="301.3" width="22.2" height="22" fill="#a9634b"/>
<path d="M177.1 306.5L182.5 315.8L171.7 315.8Z" fill="none" stroke="#40221a" stroke-width="1.3"/>
<text x="194" y="319.2" class="lab">KA6-C</text>
<rect x="166" y="330.3" width="22.2" height="22" fill="#52d012"/>
<path d="M177.1 335.5L182.5 344.8L171.7 344.8Z" fill="none" stroke="#1a4a04" stroke-width="1.3"/>
<text x="194" y="348.4" class="lab">KA6-1</text>
<rect x="166" y="359.3" width="22.2" height="22" fill="#ffff1e"/>
<path d="M177.1 364.5L182.5 373.8L171.7 373.8Z" fill="none" stroke="#55550a" stroke-width="1.3"/>
<text x="194" y="377.7" class="lab">NA6-W</text>
<rect x="166" y="388.3" width="22.2" height="22" fill="#b12a2a"/>
<path d="M177.1 393.5L182.5 402.8L171.7 402.8Z" fill="none" stroke="#3e0c0c" stroke-width="1.3"/>
<text x="194" y="406.8" class="lab">NA6-Ea</text>
<rect x="166" y="417.3" width="22.2" height="22" fill="#3c69c1"/>
<path d="M177.1 422.5L182.5 431.8L171.7 431.8Z" fill="none" stroke="#10244c" stroke-width="1.3"/>
<text x="194" y="436.8" class="lab">NA6-Eb</text>
<text x="11.6" y="96.2" class="il" font-size="19.3">95</text>
<text x="41.4" y="156.9" class="il" font-size="18.6">SM6</text>
<text x="10.6" y="311.9" class="il" font-size="18">A6-2</text>
<text x="130.0" y="64.1" class="st" text-anchor="middle">*</text>
<text x="99.8" y="93.3" class="st" text-anchor="middle">*</text>
<text x="58.8" y="135.1" class="st" text-anchor="middle">*</text>
<text x="109.6" y="178.4" class="st" text-anchor="middle">*</text>
<text x="15.2" y="212.7" class="st" text-anchor="middle">*</text>
<text x="41.7" y="290.7" class="st" text-anchor="middle">*</text>
<text x="87.5" y="300.4" class="st" text-anchor="middle">*</text>
<text x="95.0" y="389.2" class="st" text-anchor="middle">*</text>
</svg>
</body></html>
